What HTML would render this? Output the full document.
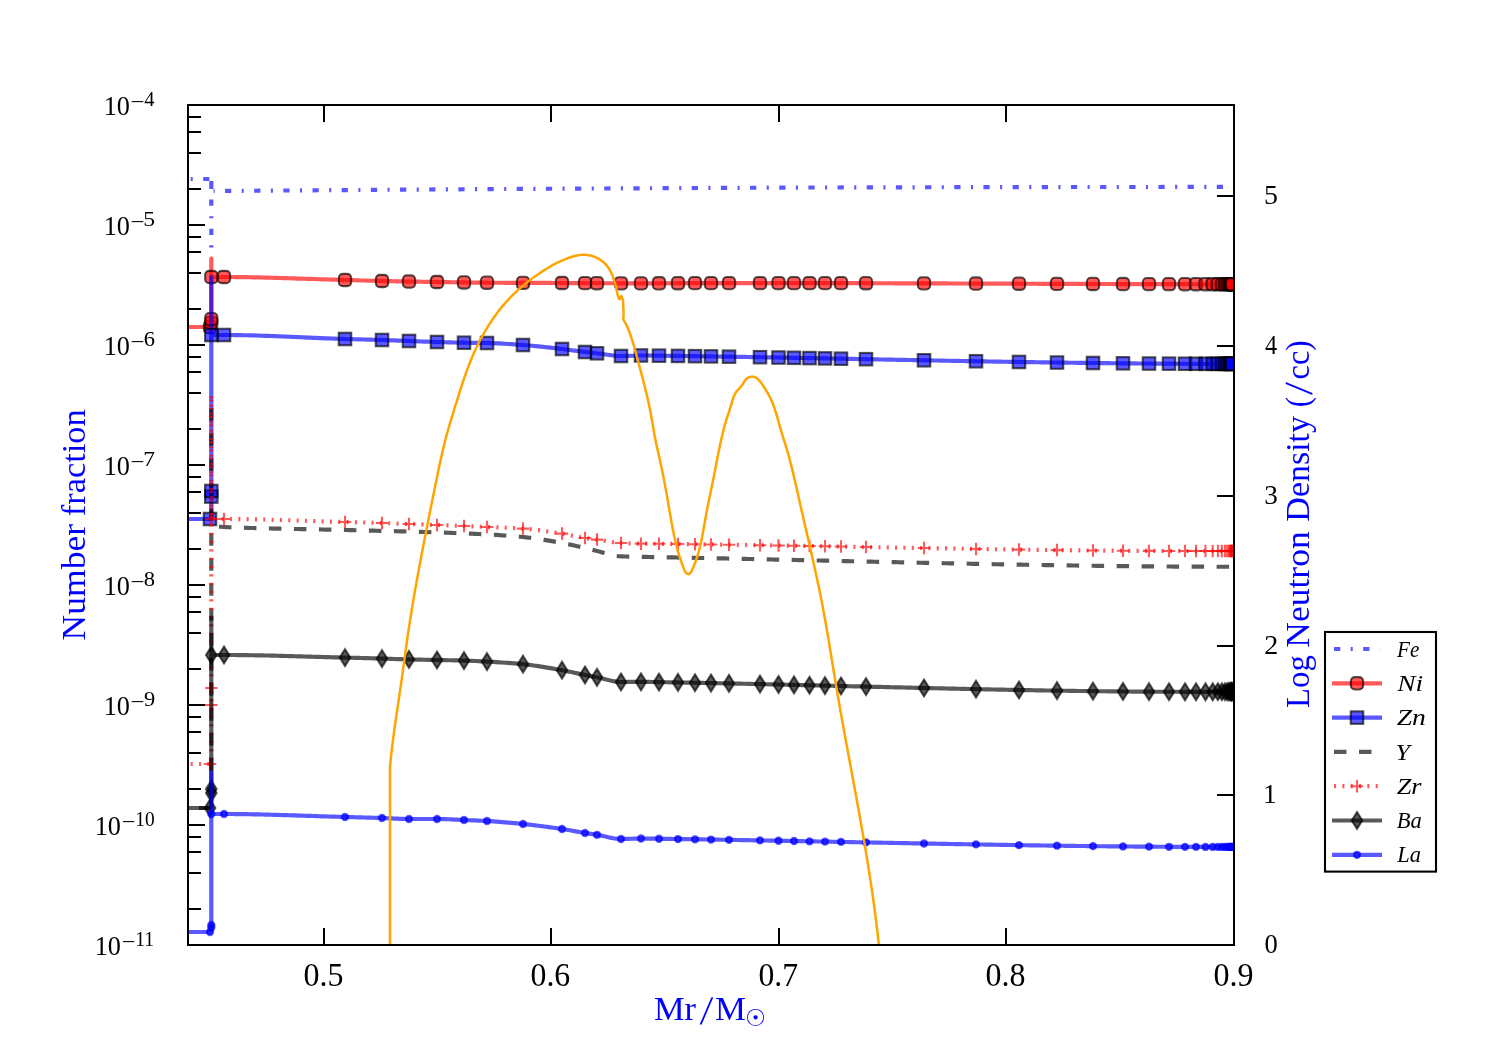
<!DOCTYPE html>
<html lang="en"><head><meta charset="utf-8"><title>Number fraction and neutron density</title>
<style>html,body{margin:0;padding:0;background:#fff;overflow:hidden}svg{display:block}</style></head>
<body>
<svg width="1500" height="1050" viewBox="0 0 1500 1050" role="img">
<rect width="1500" height="1050" fill="#fff"/>
<defs><clipPath id="ax"><rect x="188.0" y="105.0" width="1046.5" height="840.0"/></clipPath></defs>
<g clip-path="url(#ax)">
<path d="M174.03,179.00 L209.40,179.00" fill="none" stroke="#0000ff" stroke-opacity="0.65" stroke-width="4.17" stroke-linejoin="round" stroke-dasharray="6.25 10.42 2.08 10.42" stroke-dashoffset="0.00"/>
<path d="M211.30,181.00 L211.30,189.08" fill="none" stroke="#0000ff" stroke-opacity="0.65" stroke-width="4.17" stroke-linejoin="round"/>
<path d="M211.30,189.08 L211.30,247.42" fill="none" stroke="#0000ff" stroke-opacity="0.65" stroke-width="4.17" stroke-linejoin="round" stroke-dasharray="6.25 10.42 2.08 10.42" stroke-dashoffset="18.75"/>
<path d="M213.50,191.00 L500.00,189.00 L780.00,187.60 L1000.00,187.10 L1232.00,186.90" fill="none" stroke="#0000ff" stroke-opacity="0.65" stroke-width="4.17" stroke-linejoin="round" stroke-dasharray="6.25 10.42 2.08 10.42" stroke-dashoffset="17.67"/>
<path d="M170.00,327.00 L210.00,327.00 L211.30,325.00 L211.30,258.70 L211.30,277.00 L214.30,277.00 L217.30,277.00 L220.30,277.00 L223.30,277.00 L224.00,277.00 L226.30,277.00 L229.30,277.01 L232.30,277.03 L235.30,277.05 L238.30,277.08 L241.30,277.11 L244.30,277.15 L247.30,277.20 L250.30,277.25 L253.30,277.30 L256.30,277.36 L259.30,277.43 L262.30,277.50 L265.30,277.57 L268.30,277.64 L271.30,277.72 L274.30,277.81 L277.30,277.89 L280.30,277.98 L283.30,278.07 L286.30,278.16 L289.30,278.26 L292.30,278.35 L295.30,278.45 L298.30,278.55 L301.30,278.64 L304.30,278.74 L307.30,278.84 L310.30,278.94 L313.30,279.04 L316.30,279.14 L319.30,279.24 L322.30,279.33 L325.30,279.43 L328.30,279.52 L331.30,279.61 L334.30,279.70 L337.30,279.79 L340.30,279.87 L343.30,279.96 L345.00,280.00 L346.30,280.03 L349.30,280.12 L352.30,280.20 L355.30,280.28 L358.30,280.37 L361.30,280.46 L364.30,280.54 L367.30,280.63 L370.30,280.71 L373.30,280.79 L376.30,280.87 L379.30,280.94 L382.00,281.00 L382.30,281.01 L385.30,281.07 L388.30,281.14 L391.30,281.20 L394.30,281.26 L397.30,281.32 L400.30,281.37 L403.30,281.43 L406.30,281.49 L409.30,281.54 L412.30,281.59 L415.30,281.64 L418.30,281.70 L421.30,281.75 L424.30,281.80 L427.30,281.84 L430.30,281.89 L433.30,281.94 L436.30,281.99 L437.00,282.00 L439.30,282.04 L442.30,282.09 L445.30,282.14 L448.30,282.19 L451.30,282.24 L454.30,282.28 L457.30,282.33 L460.30,282.38 L463.30,282.43 L466.30,282.47 L469.30,282.52 L472.30,282.55 L475.30,282.59 L478.30,282.63 L481.30,282.65 L484.30,282.68 L487.00,282.70 L487.30,282.70 L490.30,282.72 L493.30,282.74 L496.30,282.75 L499.30,282.77 L502.30,282.78 L505.30,282.80 L508.30,282.81 L511.30,282.82 L514.30,282.83 L517.30,282.85 L520.30,282.86 L523.30,282.87 L526.30,282.88 L529.30,282.89 L532.30,282.90 L535.30,282.91 L538.30,282.92 L541.30,282.92 L544.30,282.93 L547.30,282.94 L550.30,282.95 L553.30,282.97 L556.30,282.98 L559.30,282.99 L562.00,283.00 L562.30,283.00 L565.30,283.01 L568.30,283.03 L571.30,283.04 L574.30,283.06 L577.30,283.08 L580.30,283.09 L583.30,283.11 L586.30,283.13 L589.30,283.15 L592.30,283.17 L595.30,283.18 L598.30,283.20 L601.30,283.22 L604.30,283.24 L607.30,283.25 L610.30,283.27 L613.30,283.28 L616.30,283.30 L619.30,283.31 L622.30,283.32 L625.30,283.33 L628.30,283.34 L631.30,283.35 L634.30,283.35 L637.30,283.36 L640.30,283.36 L641.00,283.36 L643.30,283.36 L646.30,283.35 L649.30,283.34 L652.30,283.32 L655.30,283.31 L658.30,283.29 L661.30,283.27 L664.30,283.26 L666.00,283.25 L667.30,283.25 L670.30,283.23 L673.30,283.22 L676.30,283.21 L679.30,283.20 L682.30,283.19 L685.30,283.19 L688.30,283.18 L691.00,283.17 L691.30,283.17 L694.30,283.16 L697.30,283.15 L700.30,283.15 L703.30,283.14 L706.30,283.13 L709.30,283.13 L712.30,283.12 L715.30,283.12 L716.00,283.12 L718.30,283.11 L721.30,283.11 L724.30,283.10 L727.30,283.10 L730.30,283.09 L733.30,283.09 L736.30,283.09 L739.30,283.08 L741.00,283.08 L742.30,283.08 L745.30,283.08 L748.30,283.08 L751.30,283.08 L754.30,283.08 L757.30,283.08 L760.30,283.07 L763.30,283.07 L766.00,283.07 L766.30,283.07 L769.30,283.07 L772.30,283.07 L775.30,283.08 L778.30,283.08 L781.30,283.08 L784.30,283.08 L787.30,283.08 L790.30,283.08 L791.00,283.08 L793.30,283.09 L796.30,283.09 L799.30,283.09 L802.30,283.09 L805.30,283.10 L808.30,283.10 L811.30,283.10 L814.30,283.11 L816.00,283.11 L817.30,283.11 L820.30,283.12 L823.30,283.12 L826.30,283.13 L829.30,283.13 L832.30,283.14 L835.30,283.14 L838.30,283.15 L841.00,283.15 L841.30,283.15 L844.30,283.16 L847.30,283.17 L850.30,283.17 L853.30,283.18 L856.30,283.19 L859.30,283.19 L862.30,283.20 L865.30,283.21 L866.00,283.21 L868.30,283.21 L871.30,283.22 L874.30,283.23 L877.30,283.24 L880.30,283.25 L883.30,283.25 L886.30,283.26 L889.30,283.27 L891.00,283.28 L892.30,283.28 L895.30,283.29 L898.30,283.30 L901.30,283.31 L904.30,283.32 L907.30,283.32 L910.30,283.33 L913.30,283.34 L916.00,283.35 L916.30,283.35 L919.30,283.36 L922.30,283.37 L925.30,283.38 L928.30,283.39 L931.30,283.40 L934.30,283.41 L937.30,283.42 L940.30,283.43 L941.00,283.43 L943.30,283.44 L946.30,283.45 L949.30,283.46 L952.30,283.47 L955.30,283.48 L958.30,283.50 L961.30,283.51 L964.30,283.52 L966.00,283.52 L967.30,283.53 L970.30,283.54 L973.30,283.55 L976.00,283.56 L976.30,283.56 L979.30,283.57 L982.30,283.58 L985.30,283.59 L988.30,283.60 L991.00,283.61 L991.30,283.62 L994.30,283.63 L997.30,283.64 L1000.30,283.65 L1003.30,283.66 L1006.30,283.67 L1009.30,283.68 L1012.30,283.69 L1015.30,283.70 L1016.00,283.71 L1018.30,283.72 L1019.00,283.72 L1021.30,283.73 L1024.30,283.74 L1027.30,283.75 L1030.30,283.76 L1033.30,283.77 L1036.30,283.78 L1039.30,283.79 L1041.00,283.80 L1042.30,283.80 L1045.30,283.81 L1048.30,283.82 L1051.30,283.83 L1054.30,283.85 L1057.30,283.86 L1060.30,283.87 L1063.30,283.88 L1066.00,283.89 L1066.30,283.89 L1069.30,283.90 L1072.30,283.91 L1075.30,283.92 L1078.30,283.93 L1081.30,283.94 L1084.30,283.95 L1087.30,283.96 L1090.30,283.97 L1091.00,283.97 L1093.30,283.98 L1096.30,283.99 L1099.30,283.99 L1102.30,284.00 L1105.30,284.01 L1108.30,284.02 L1111.30,284.03 L1114.30,284.04 L1116.00,284.04 L1117.30,284.05 L1120.30,284.06 L1123.30,284.06 L1126.30,284.07 L1129.30,284.08 L1132.30,284.09 L1135.30,284.10 L1138.30,284.10 L1141.00,284.11 L1141.30,284.11 L1144.30,284.12 L1147.30,284.13 L1150.30,284.13 L1153.30,284.14 L1156.30,284.15 L1159.30,284.15 L1162.30,284.16 L1165.30,284.16 L1166.00,284.17 L1168.30,284.17 L1171.30,284.18 L1174.30,284.18 L1177.30,284.19 L1180.30,284.19 L1183.30,284.20 L1186.30,284.20 L1189.30,284.20 L1191.00,284.21 L1192.30,284.21 L1195.30,284.21 L1198.30,284.22 L1201.30,284.22 L1204.30,284.22 L1207.30,284.23 L1210.30,284.23 L1213.30,284.23 L1216.00,284.23 L1216.30,284.23 L1219.30,284.24 L1222.30,284.24 L1225.30,284.24 L1228.30,284.24 L1231.30,284.24 L1232.20,284.24" fill="none" stroke="#ff0000" stroke-opacity="0.65" stroke-width="4.17" stroke-linejoin="round"/>
<g fill="#ff0000" fill-opacity="0.65" stroke="#000" stroke-opacity="0.65" stroke-width="2.08" stroke-linejoin="miter"><rect x="203.85" y="320.85" width="12.3" height="12.3" rx="4"/><rect x="205.15" y="316.65" width="12.3" height="12.3" rx="4"/><rect x="205.15" y="313.05" width="12.3" height="12.3" rx="4"/><rect x="205.15" y="270.85" width="12.3" height="12.3" rx="4"/><rect x="217.85" y="270.85" width="12.3" height="12.3" rx="4"/><rect x="338.85" y="273.85" width="12.3" height="12.3" rx="4"/><rect x="375.85" y="274.85" width="12.3" height="12.3" rx="4"/><rect x="402.85" y="275.38" width="12.3" height="12.3" rx="4"/><rect x="430.85" y="275.85" width="12.3" height="12.3" rx="4"/><rect x="457.85" y="276.29" width="12.3" height="12.3" rx="4"/><rect x="480.85" y="276.55" width="12.3" height="12.3" rx="4"/><rect x="516.85" y="276.72" width="12.3" height="12.3" rx="4"/><rect x="555.85" y="276.85" width="12.3" height="12.3" rx="4"/><rect x="578.85" y="276.97" width="12.3" height="12.3" rx="4"/><rect x="590.85" y="277.04" width="12.3" height="12.3" rx="4"/><rect x="614.85" y="277.17" width="12.3" height="12.3" rx="4"/><rect x="634.85" y="277.21" width="12.3" height="12.3" rx="4"/><rect x="652.85" y="277.13" width="12.3" height="12.3" rx="4"/><rect x="671.85" y="277.06" width="12.3" height="12.3" rx="4"/><rect x="688.85" y="277.01" width="12.3" height="12.3" rx="4"/><rect x="704.85" y="276.97" width="12.3" height="12.3" rx="4"/><rect x="722.85" y="276.95" width="12.3" height="12.3" rx="4"/><rect x="753.85" y="276.92" width="12.3" height="12.3" rx="4"/><rect x="772.35" y="276.93" width="12.3" height="12.3" rx="4"/><rect x="787.85" y="276.94" width="12.3" height="12.3" rx="4"/><rect x="803.35" y="276.95" width="12.3" height="12.3" rx="4"/><rect x="818.85" y="276.97" width="12.3" height="12.3" rx="4"/><rect x="834.85" y="277.00" width="12.3" height="12.3" rx="4"/><rect x="859.85" y="277.06" width="12.3" height="12.3" rx="4"/><rect x="917.85" y="277.23" width="12.3" height="12.3" rx="4"/><rect x="969.85" y="277.41" width="12.3" height="12.3" rx="4"/><rect x="1012.85" y="277.57" width="12.3" height="12.3" rx="4"/><rect x="1050.85" y="277.70" width="12.3" height="12.3" rx="4"/><rect x="1086.85" y="277.83" width="12.3" height="12.3" rx="4"/><rect x="1116.85" y="277.91" width="12.3" height="12.3" rx="4"/><rect x="1142.85" y="277.98" width="12.3" height="12.3" rx="4"/><rect x="1162.85" y="278.02" width="12.3" height="12.3" rx="4"/><rect x="1178.85" y="278.05" width="12.3" height="12.3" rx="4"/><rect x="1189.85" y="278.06" width="12.3" height="12.3" rx="4"/><rect x="1199.35" y="278.07" width="12.3" height="12.3" rx="4"/><rect x="1206.55" y="278.08" width="12.3" height="12.3" rx="4"/><rect x="1211.75" y="278.08" width="12.3" height="12.3" rx="4"/><rect x="1215.75" y="278.09" width="12.3" height="12.3" rx="4"/><rect x="1218.85" y="278.09" width="12.3" height="12.3" rx="4"/><rect x="1221.05" y="278.09" width="12.3" height="12.3" rx="4"/><rect x="1222.65" y="278.09" width="12.3" height="12.3" rx="4"/><rect x="1223.85" y="278.09" width="12.3" height="12.3" rx="4"/><rect x="1224.75" y="278.09" width="12.3" height="12.3" rx="4"/><rect x="1225.35" y="278.09" width="12.3" height="12.3" rx="4"/><rect x="1225.75" y="278.09" width="12.3" height="12.3" rx="4"/><rect x="1226.05" y="278.09" width="12.3" height="12.3" rx="4"/></g>
<path d="M170.00,519.00 L210.00,519.00 L211.30,517.00 L211.30,277.00 L211.30,335.00 L214.30,335.00 L217.30,335.00 L220.30,335.00 L223.30,335.00 L224.00,335.00 L226.30,335.00 L229.30,335.02 L232.30,335.04 L235.30,335.07 L238.30,335.11 L241.30,335.16 L244.30,335.22 L247.30,335.28 L250.30,335.35 L253.30,335.43 L256.30,335.52 L259.30,335.61 L262.30,335.71 L265.30,335.81 L268.30,335.92 L271.30,336.03 L274.30,336.14 L277.30,336.26 L280.30,336.38 L283.30,336.51 L286.30,336.63 L289.30,336.76 L292.30,336.89 L295.30,337.03 L298.30,337.16 L301.30,337.29 L304.30,337.42 L307.30,337.55 L310.30,337.69 L313.30,337.82 L316.30,337.94 L319.30,338.07 L322.30,338.19 L325.30,338.31 L328.30,338.43 L331.30,338.54 L334.30,338.65 L337.30,338.76 L340.30,338.86 L343.30,338.95 L345.00,339.00 L346.30,339.04 L349.30,339.12 L352.30,339.20 L355.30,339.28 L358.30,339.36 L361.30,339.43 L364.30,339.51 L367.30,339.59 L370.30,339.66 L373.30,339.75 L376.30,339.83 L379.30,339.92 L382.00,340.00 L382.30,340.01 L385.30,340.11 L388.30,340.21 L391.30,340.32 L394.30,340.44 L397.30,340.55 L400.30,340.67 L403.30,340.79 L406.30,340.90 L409.00,341.00 L409.30,341.01 L412.30,341.12 L415.30,341.23 L418.30,341.35 L421.30,341.46 L424.30,341.57 L427.30,341.68 L430.30,341.78 L433.30,341.88 L436.30,341.98 L437.00,342.00 L439.30,342.07 L442.30,342.16 L445.30,342.25 L448.30,342.33 L451.30,342.41 L454.30,342.49 L457.30,342.56 L460.30,342.63 L463.30,342.69 L464.00,342.70 L466.30,342.74 L469.30,342.78 L472.30,342.81 L475.30,342.84 L478.30,342.87 L481.30,342.91 L484.30,342.95 L487.00,343.00 L487.30,343.01 L490.30,343.08 L493.30,343.18 L496.30,343.31 L499.30,343.45 L502.30,343.61 L505.30,343.79 L508.30,343.97 L511.30,344.17 L514.30,344.38 L517.30,344.59 L520.30,344.81 L523.00,345.00 L523.30,345.02 L526.30,345.25 L529.30,345.50 L532.30,345.77 L535.30,346.05 L538.30,346.35 L541.30,346.66 L544.30,346.98 L547.30,347.31 L550.30,347.65 L553.30,347.99 L556.30,348.34 L559.30,348.69 L562.00,349.00 L562.30,349.03 L565.30,349.40 L568.30,349.79 L571.30,350.20 L574.30,350.61 L577.30,351.02 L580.30,351.42 L583.30,351.80 L585.00,352.00 L586.30,352.15 L589.30,352.48 L592.30,352.80 L595.30,353.12 L597.00,353.30 L598.30,353.45 L601.30,353.85 L604.30,354.29 L607.30,354.73 L610.30,355.16 L613.30,355.53 L616.30,355.81 L619.30,355.97 L621.00,356.00 L622.30,355.99 L625.30,355.94 L628.30,355.84 L631.30,355.72 L634.30,355.60 L637.30,355.51 L640.30,355.46 L641.00,355.46 L643.30,355.47 L646.30,355.49 L649.30,355.53 L652.30,355.57 L655.30,355.62 L658.30,355.66 L659.00,355.67 L661.30,355.70 L664.30,355.74 L666.00,355.76 L667.30,355.78 L670.30,355.82 L673.30,355.86 L676.30,355.90 L679.30,355.94 L682.30,355.98 L685.30,356.02 L688.30,356.06 L691.00,356.10 L691.30,356.10 L694.30,356.15 L695.00,356.16 L697.30,356.19 L700.30,356.24 L703.30,356.28 L706.30,356.33 L709.30,356.37 L711.00,356.40 L712.30,356.42 L715.30,356.46 L716.00,356.47 L718.30,356.51 L721.30,356.56 L724.30,356.61 L727.30,356.65 L730.30,356.70 L733.30,356.75 L736.30,356.80 L739.30,356.85 L741.00,356.88 L742.30,356.90 L745.30,356.95 L748.30,357.00 L751.30,357.05 L754.30,357.10 L757.30,357.16 L760.00,357.20 L760.30,357.21 L763.30,357.26 L766.00,357.31 L766.30,357.31 L769.30,357.37 L772.30,357.42 L775.30,357.47 L778.30,357.53 L781.30,357.58 L784.30,357.64 L787.30,357.69 L790.30,357.74 L791.00,357.76 L793.30,357.80 L794.00,357.81 L796.30,357.86 L799.30,357.91 L802.30,357.97 L805.30,358.02 L808.30,358.08 L811.30,358.13 L814.30,358.19 L816.00,358.22 L817.30,358.25 L820.30,358.30 L823.30,358.36 L825.00,358.39 L826.30,358.42 L829.30,358.47 L832.30,358.53 L835.30,358.59 L838.30,358.65 L841.00,358.70 L841.30,358.70 L844.30,358.76 L847.30,358.82 L850.30,358.88 L853.30,358.93 L856.30,358.99 L859.30,359.05 L862.30,359.11 L865.30,359.17 L866.00,359.18 L868.30,359.22 L871.30,359.28 L874.30,359.34 L877.30,359.40 L880.30,359.46 L883.30,359.51 L886.30,359.57 L889.30,359.63 L891.00,359.66 L892.30,359.69 L895.30,359.75 L898.30,359.80 L901.30,359.86 L904.30,359.92 L907.30,359.98 L910.30,360.03 L913.30,360.09 L916.00,360.14 L916.30,360.15 L919.30,360.20 L922.30,360.26 L924.00,360.29 L925.30,360.32 L928.30,360.37 L931.30,360.43 L934.30,360.49 L937.30,360.54 L940.30,360.60 L941.00,360.61 L943.30,360.65 L946.30,360.71 L949.30,360.76 L952.30,360.82 L955.30,360.87 L958.30,360.93 L961.30,360.98 L964.30,361.04 L966.00,361.07 L967.30,361.09 L970.30,361.14 L973.30,361.20 L976.00,361.25 L976.30,361.25 L979.30,361.30 L982.30,361.36 L985.30,361.41 L988.30,361.46 L991.00,361.51 L991.30,361.51 L994.30,361.56 L997.30,361.61 L1000.30,361.66 L1003.30,361.71 L1006.30,361.76 L1009.30,361.81 L1012.30,361.86 L1015.30,361.91 L1016.00,361.92 L1018.30,361.96 L1019.00,361.97 L1021.30,362.01 L1024.30,362.05 L1027.30,362.10 L1030.30,362.15 L1033.30,362.19 L1036.30,362.24 L1039.30,362.28 L1041.00,362.31 L1042.30,362.33 L1045.30,362.37 L1048.30,362.42 L1051.30,362.46 L1054.30,362.50 L1057.00,362.54 L1057.30,362.54 L1060.30,362.59 L1063.30,362.63 L1066.00,362.66 L1066.30,362.67 L1069.30,362.71 L1072.30,362.75 L1075.30,362.78 L1078.30,362.82 L1081.30,362.86 L1084.30,362.90 L1087.30,362.94 L1090.30,362.97 L1091.00,362.98 L1093.30,363.01 L1096.30,363.04 L1099.30,363.07 L1102.30,363.11 L1105.30,363.14 L1108.30,363.17 L1111.30,363.21 L1114.30,363.24 L1116.00,363.25 L1117.30,363.27 L1120.30,363.30 L1123.00,363.32 L1123.30,363.33 L1126.30,363.35 L1129.30,363.38 L1132.30,363.41 L1135.30,363.43 L1138.30,363.46 L1141.00,363.48 L1141.30,363.48 L1144.30,363.51 L1147.30,363.53 L1149.00,363.54 L1150.30,363.55 L1153.30,363.57 L1156.30,363.59 L1159.30,363.61 L1162.30,363.63 L1165.30,363.65 L1166.00,363.66 L1168.30,363.67 L1171.30,363.68 L1174.30,363.70 L1177.30,363.72 L1180.30,363.73 L1183.30,363.74 L1186.30,363.76 L1189.30,363.77 L1191.00,363.77 L1192.30,363.78 L1195.30,363.79 L1198.30,363.80 L1201.30,363.80 L1204.30,363.81 L1207.30,363.82 L1210.30,363.82 L1213.30,363.83 L1216.00,363.83 L1216.30,363.83 L1219.30,363.83 L1222.30,363.83 L1225.30,363.83 L1228.30,363.83 L1231.30,363.83 L1232.20,363.83" fill="none" stroke="#0000ff" stroke-opacity="0.65" stroke-width="4.17" stroke-linejoin="round"/>
<g fill="#0000ff" fill-opacity="0.65" stroke="#000" stroke-opacity="0.65" stroke-width="2.08" stroke-linejoin="miter"><rect x="203.75" y="512.75" width="12.5" height="12.5"/><rect x="205.05" y="490.35" width="12.5" height="12.5"/><rect x="205.05" y="484.75" width="12.5" height="12.5"/><rect x="205.05" y="328.75" width="12.5" height="12.5"/><rect x="217.75" y="328.75" width="12.5" height="12.5"/><rect x="338.75" y="332.75" width="12.5" height="12.5"/><rect x="375.75" y="333.75" width="12.5" height="12.5"/><rect x="402.75" y="334.75" width="12.5" height="12.5"/><rect x="430.75" y="335.75" width="12.5" height="12.5"/><rect x="457.75" y="336.45" width="12.5" height="12.5"/><rect x="480.75" y="336.75" width="12.5" height="12.5"/><rect x="516.75" y="338.75" width="12.5" height="12.5"/><rect x="555.75" y="342.75" width="12.5" height="12.5"/><rect x="578.75" y="345.75" width="12.5" height="12.5"/><rect x="590.75" y="347.05" width="12.5" height="12.5"/><rect x="614.75" y="349.75" width="12.5" height="12.5"/><rect x="634.75" y="349.21" width="12.5" height="12.5"/><rect x="652.75" y="349.42" width="12.5" height="12.5"/><rect x="671.75" y="349.67" width="12.5" height="12.5"/><rect x="688.75" y="349.91" width="12.5" height="12.5"/><rect x="704.75" y="350.15" width="12.5" height="12.5"/><rect x="722.75" y="350.43" width="12.5" height="12.5"/><rect x="753.75" y="350.95" width="12.5" height="12.5"/><rect x="772.25" y="351.28" width="12.5" height="12.5"/><rect x="787.75" y="351.56" width="12.5" height="12.5"/><rect x="803.25" y="351.85" width="12.5" height="12.5"/><rect x="818.75" y="352.14" width="12.5" height="12.5"/><rect x="834.75" y="352.45" width="12.5" height="12.5"/><rect x="859.75" y="352.93" width="12.5" height="12.5"/><rect x="917.75" y="354.04" width="12.5" height="12.5"/><rect x="969.75" y="355.00" width="12.5" height="12.5"/><rect x="1012.75" y="355.72" width="12.5" height="12.5"/><rect x="1050.75" y="356.29" width="12.5" height="12.5"/><rect x="1086.75" y="356.75" width="12.5" height="12.5"/><rect x="1116.75" y="357.07" width="12.5" height="12.5"/><rect x="1142.75" y="357.29" width="12.5" height="12.5"/><rect x="1162.75" y="357.42" width="12.5" height="12.5"/><rect x="1178.75" y="357.50" width="12.5" height="12.5"/><rect x="1189.75" y="357.54" width="12.5" height="12.5"/><rect x="1199.25" y="357.57" width="12.5" height="12.5"/><rect x="1206.45" y="357.58" width="12.5" height="12.5"/><rect x="1211.65" y="357.58" width="12.5" height="12.5"/><rect x="1215.65" y="357.58" width="12.5" height="12.5"/><rect x="1218.75" y="357.58" width="12.5" height="12.5"/><rect x="1220.95" y="357.58" width="12.5" height="12.5"/><rect x="1222.55" y="357.58" width="12.5" height="12.5"/><rect x="1223.75" y="357.58" width="12.5" height="12.5"/><rect x="1224.65" y="357.58" width="12.5" height="12.5"/><rect x="1225.25" y="357.58" width="12.5" height="12.5"/><rect x="1225.65" y="357.58" width="12.5" height="12.5"/><rect x="1225.95" y="357.58" width="12.5" height="12.5"/></g>
<path d="M174.00,808.00 L211.50,808.00" fill="none" stroke="#000000" stroke-opacity="0.65" stroke-width="4.17" stroke-linejoin="round" stroke-dasharray="12.5 12.5" stroke-dashoffset="0.00"/>
<path d="M211.30,408.30 L211.30,808.00" fill="none" stroke="#000000" stroke-opacity="0.65" stroke-width="4.17" stroke-linejoin="round" stroke-dasharray="12.5 12.5" stroke-dashoffset="0.00"/>
<path d="M211.30,526.00 L214.30,526.26 L217.30,526.53 L220.30,526.78 L223.30,526.97 L224.00,527.00 L226.30,527.10 L229.30,527.22 L232.30,527.34 L235.30,527.46 L238.30,527.57 L241.30,527.67 L244.30,527.77 L247.30,527.87 L250.30,527.96 L253.30,528.04 L256.30,528.13 L259.30,528.21 L262.30,528.29 L265.30,528.36 L268.30,528.43 L271.30,528.50 L274.30,528.57 L277.30,528.63 L280.30,528.69 L283.30,528.75 L286.30,528.81 L289.30,528.87 L292.30,528.93 L295.30,528.99 L298.30,529.04 L301.30,529.10 L304.30,529.15 L307.30,529.21 L310.30,529.26 L313.30,529.32 L316.30,529.38 L319.30,529.43 L322.30,529.49 L325.30,529.55 L328.30,529.62 L331.30,529.68 L334.30,529.75 L337.30,529.81 L340.30,529.88 L343.30,529.96 L345.00,530.00 L346.30,530.03 L349.30,530.11 L352.30,530.18 L355.30,530.26 L358.30,530.33 L361.30,530.40 L364.30,530.48 L367.30,530.55 L370.30,530.62 L373.30,530.69 L376.30,530.76 L379.30,530.84 L382.30,530.91 L385.30,530.98 L388.30,531.06 L391.30,531.13 L394.30,531.20 L397.30,531.28 L400.30,531.36 L403.30,531.43 L406.30,531.51 L409.30,531.59 L412.30,531.67 L415.30,531.75 L418.30,531.84 L421.30,531.92 L424.30,532.01 L427.30,532.10 L430.30,532.19 L433.30,532.28 L436.30,532.38 L437.00,532.40 L439.30,532.47 L442.30,532.57 L445.30,532.67 L448.30,532.78 L451.30,532.88 L454.30,532.99 L457.30,533.10 L460.30,533.21 L463.30,533.33 L466.30,533.45 L469.30,533.57 L472.30,533.70 L475.30,533.83 L478.30,533.97 L481.30,534.11 L484.30,534.26 L487.00,534.40 L487.30,534.42 L490.30,534.58 L493.30,534.75 L496.30,534.92 L499.30,535.11 L502.30,535.31 L505.30,535.52 L508.30,535.74 L511.30,535.97 L514.30,536.21 L517.30,536.47 L520.30,536.74 L523.00,537.00 L523.30,537.03 L526.30,537.35 L529.30,537.70 L532.30,538.08 L535.30,538.49 L538.30,538.93 L541.30,539.39 L544.30,539.88 L547.30,540.38 L550.30,540.90 L553.30,541.42 L556.30,541.96 L559.30,542.51 L562.00,543.00 L562.30,543.06 L565.30,543.63 L568.30,544.23 L571.30,544.87 L574.30,545.53 L577.30,546.21 L580.30,546.90 L583.30,547.60 L585.00,548.00 L586.30,548.31 L589.30,549.06 L592.30,549.83 L595.30,550.59 L597.00,551.00 L598.30,551.32 L601.30,552.12 L604.30,552.98 L607.30,553.83 L610.30,554.64 L613.30,555.35 L616.30,555.92 L619.30,556.29 L621.00,556.40 L622.30,556.45 L625.30,556.54 L628.30,556.61 L631.30,556.67 L634.30,556.72 L637.30,556.77 L640.30,556.83 L641.00,556.84 L643.30,556.89 L646.30,556.94 L649.30,557.00 L652.30,557.05 L655.30,557.10 L658.30,557.16 L661.30,557.21 L664.30,557.26 L666.00,557.30 L667.30,557.32 L670.30,557.38 L673.30,557.43 L676.30,557.49 L679.30,557.55 L680.00,557.56 L682.30,557.61 L685.30,557.67 L688.30,557.72 L691.00,557.78 L691.30,557.78 L694.30,557.84 L697.30,557.90 L700.30,557.96 L703.30,558.02 L706.30,558.08 L709.30,558.14 L712.30,558.21 L715.30,558.27 L716.00,558.28 L718.30,558.33 L721.30,558.39 L724.30,558.45 L727.30,558.52 L730.30,558.58 L733.30,558.64 L736.30,558.71 L739.30,558.77 L741.00,558.81 L742.30,558.83 L745.30,558.90 L748.30,558.96 L751.30,559.03 L754.30,559.09 L757.30,559.15 L760.00,559.21 L760.30,559.22 L763.30,559.28 L766.00,559.34 L766.30,559.35 L769.30,559.42 L772.30,559.48 L775.30,559.55 L778.30,559.61 L781.30,559.68 L784.30,559.74 L787.30,559.81 L790.30,559.88 L791.00,559.89 L793.30,559.94 L796.30,560.01 L799.30,560.08 L802.30,560.14 L805.30,560.21 L808.30,560.27 L811.30,560.34 L814.30,560.41 L816.00,560.45 L817.30,560.47 L820.30,560.54 L823.30,560.61 L826.30,560.67 L829.30,560.74 L832.30,560.81 L835.30,560.88 L838.30,560.94 L841.00,561.00 L841.30,561.01 L844.30,561.08 L847.30,561.14 L850.30,561.21 L853.30,561.28 L856.30,561.34 L859.30,561.41 L862.30,561.47 L865.30,561.54 L866.00,561.56 L868.30,561.61 L871.30,561.67 L874.30,561.74 L877.30,561.80 L880.30,561.87 L883.30,561.94 L886.30,562.00 L889.30,562.07 L891.00,562.10 L892.30,562.13 L895.30,562.20 L898.30,562.26 L901.30,562.33 L904.30,562.39 L907.30,562.45 L910.30,562.52 L913.30,562.58 L916.00,562.64 L916.30,562.65 L919.30,562.71 L922.30,562.77 L924.00,562.81 L925.30,562.84 L928.30,562.90 L931.30,562.96 L934.30,563.02 L937.30,563.09 L940.30,563.15 L941.00,563.16 L943.30,563.21 L946.30,563.27 L949.30,563.33 L952.30,563.39 L955.30,563.45 L958.30,563.51 L961.30,563.57 L964.30,563.63 L966.00,563.67 L967.30,563.69 L970.30,563.75 L973.30,563.81 L976.00,563.86 L976.30,563.87 L979.30,563.92 L982.30,563.98 L985.30,564.04 L988.30,564.10 L991.00,564.15 L991.30,564.15 L994.30,564.21 L997.30,564.26 L1000.30,564.32 L1003.30,564.37 L1006.30,564.43 L1009.30,564.48 L1012.30,564.53 L1015.30,564.59 L1016.00,564.60 L1018.30,564.64 L1019.00,564.65 L1021.30,564.69 L1024.30,564.74 L1027.30,564.79 L1030.30,564.84 L1033.30,564.89 L1036.30,564.94 L1039.30,564.99 L1041.00,565.02 L1042.30,565.04 L1045.30,565.09 L1048.30,565.14 L1050.00,565.16 L1051.30,565.18 L1054.30,565.23 L1057.30,565.27 L1060.30,565.32 L1063.30,565.36 L1066.00,565.40 L1066.30,565.41 L1069.30,565.45 L1072.30,565.49 L1075.30,565.54 L1078.30,565.58 L1081.30,565.62 L1084.30,565.66 L1087.30,565.70 L1090.30,565.74 L1091.00,565.75 L1093.30,565.78 L1096.30,565.82 L1099.30,565.85 L1102.30,565.89 L1105.30,565.93 L1108.30,565.96 L1111.30,566.00 L1114.30,566.03 L1116.00,566.05 L1117.30,566.07 L1120.30,566.10 L1123.30,566.13 L1126.30,566.16 L1129.30,566.19 L1132.30,566.22 L1135.30,566.25 L1138.30,566.28 L1141.00,566.30 L1141.30,566.31 L1144.30,566.33 L1147.30,566.36 L1150.30,566.38 L1153.30,566.41 L1156.30,566.43 L1159.30,566.46 L1162.30,566.48 L1165.30,566.50 L1166.00,566.50 L1168.30,566.52 L1171.30,566.54 L1174.30,566.56 L1177.30,566.58 L1180.30,566.59 L1183.30,566.61 L1186.30,566.63 L1189.30,566.64 L1191.00,566.65 L1192.30,566.65 L1195.30,566.67 L1198.30,566.68 L1201.30,566.69 L1204.30,566.70 L1207.30,566.71 L1210.30,566.72 L1213.30,566.73 L1216.00,566.73 L1216.30,566.73 L1219.30,566.74 L1222.30,566.74 L1225.30,566.75 L1228.30,566.75 L1231.30,566.75 L1232.20,566.75" fill="none" stroke="#000000" stroke-opacity="0.65" stroke-width="4.17" stroke-linejoin="round" stroke-dasharray="12.5 12.5" stroke-dashoffset="17.30"/>
<path d="M174.00,764.00 L210.00,764.00" fill="none" stroke="#ff0000" stroke-opacity="0.65" stroke-width="4.17" stroke-linejoin="round" stroke-dasharray="2.08 6.25" stroke-dashoffset="0.00"/>
<path d="M211.30,399.40 L211.30,764.00" fill="none" stroke="#ff0000" stroke-opacity="0.65" stroke-width="4.17" stroke-linejoin="round" stroke-dasharray="2.08 6.25" stroke-dashoffset="0.00"/>
<path d="M211.30,396.30 L211.30,519.00" fill="none" stroke="#ff0000" stroke-opacity="0.65" stroke-width="4.17" stroke-linejoin="round" stroke-dasharray="2.08 6.25" stroke-dashoffset="0.00"/>
<path d="M211.30,519.00 L214.30,519.00 L217.30,519.00 L220.30,519.00 L223.30,519.00 L224.00,519.00 L226.30,519.00 L229.30,519.01 L232.30,519.03 L235.30,519.05 L238.30,519.08 L241.30,519.11 L244.30,519.15 L247.30,519.20 L250.30,519.25 L253.30,519.30 L256.30,519.36 L259.30,519.43 L262.30,519.50 L265.30,519.57 L268.30,519.64 L271.30,519.72 L274.30,519.81 L277.30,519.89 L280.30,519.98 L283.30,520.07 L286.30,520.16 L289.30,520.26 L292.30,520.35 L295.30,520.45 L298.30,520.55 L301.30,520.64 L304.30,520.74 L307.30,520.84 L310.30,520.94 L313.30,521.04 L316.30,521.14 L319.30,521.24 L322.30,521.33 L325.30,521.43 L328.30,521.52 L331.30,521.61 L334.30,521.70 L337.30,521.79 L340.30,521.87 L343.30,521.96 L345.00,522.00 L346.30,522.03 L349.30,522.11 L352.30,522.19 L355.30,522.26 L358.30,522.34 L361.30,522.42 L364.30,522.50 L367.30,522.58 L370.30,522.66 L373.30,522.74 L376.30,522.83 L379.30,522.92 L382.00,523.00 L382.30,523.01 L385.30,523.11 L388.30,523.21 L391.30,523.32 L394.30,523.44 L397.30,523.55 L400.30,523.67 L403.30,523.79 L406.30,523.90 L409.00,524.00 L409.30,524.01 L412.30,524.12 L415.30,524.23 L418.30,524.33 L421.30,524.44 L424.30,524.55 L427.30,524.65 L430.30,524.76 L433.30,524.87 L436.30,524.97 L437.00,525.00 L439.30,525.08 L442.30,525.19 L445.30,525.30 L448.30,525.41 L451.30,525.52 L454.30,525.63 L457.30,525.74 L460.30,525.85 L463.30,525.97 L464.00,526.00 L466.30,526.09 L469.30,526.22 L472.30,526.35 L475.30,526.48 L478.30,526.61 L481.30,526.75 L484.30,526.88 L487.00,527.00 L487.30,527.01 L490.30,527.14 L493.30,527.26 L496.30,527.37 L499.30,527.49 L502.30,527.60 L505.30,527.71 L508.30,527.84 L511.30,527.97 L514.30,528.11 L517.30,528.26 L520.30,528.43 L523.00,528.60 L523.30,528.62 L526.30,528.84 L529.30,529.11 L532.30,529.41 L535.30,529.74 L538.30,530.11 L541.30,530.50 L544.30,530.91 L547.30,531.34 L550.30,531.79 L553.30,532.24 L556.30,532.71 L559.30,533.18 L562.00,533.60 L562.30,533.65 L565.30,534.16 L568.30,534.73 L571.30,535.35 L574.30,535.97 L577.30,536.59 L580.30,537.18 L583.30,537.72 L585.00,538.00 L586.30,538.19 L589.30,538.61 L592.30,538.99 L595.30,539.37 L597.00,539.60 L598.30,539.78 L601.30,540.25 L604.30,540.76 L607.30,541.27 L610.30,541.77 L613.30,542.23 L616.30,542.61 L619.30,542.89 L621.00,543.00 L622.30,543.06 L625.30,543.20 L628.30,543.31 L631.30,543.41 L634.30,543.49 L637.30,543.56 L640.30,543.62 L641.00,543.63 L643.30,543.66 L646.30,543.70 L649.30,543.73 L652.30,543.76 L655.30,543.78 L658.30,543.80 L661.30,543.83 L664.30,543.86 L666.00,543.88 L667.30,543.89 L670.30,543.92 L673.30,543.96 L676.30,543.99 L679.30,544.03 L682.30,544.06 L685.30,544.10 L688.30,544.14 L691.00,544.17 L691.30,544.17 L694.30,544.21 L695.00,544.22 L697.30,544.25 L700.30,544.29 L703.30,544.33 L706.30,544.37 L709.30,544.41 L712.30,544.45 L715.30,544.49 L716.00,544.50 L718.30,544.53 L721.30,544.58 L724.30,544.62 L727.30,544.66 L729.00,544.69 L730.30,544.71 L733.30,544.75 L736.30,544.80 L739.30,544.84 L741.00,544.87 L742.30,544.89 L745.30,544.93 L748.30,544.98 L751.30,545.03 L754.30,545.08 L757.30,545.12 L760.00,545.17 L760.30,545.17 L763.30,545.22 L766.00,545.26 L766.30,545.27 L769.30,545.32 L772.30,545.37 L775.30,545.42 L778.30,545.47 L781.30,545.52 L784.30,545.57 L787.30,545.62 L790.30,545.67 L791.00,545.68 L793.30,545.72 L794.00,545.73 L796.30,545.77 L799.30,545.82 L802.30,545.88 L805.30,545.93 L808.30,545.98 L811.30,546.03 L814.30,546.09 L816.00,546.12 L817.30,546.14 L820.30,546.19 L823.30,546.25 L825.00,546.28 L826.30,546.30 L829.30,546.35 L832.30,546.41 L835.30,546.46 L838.30,546.52 L841.00,546.56 L841.30,546.57 L844.30,546.62 L847.30,546.68 L850.30,546.73 L853.30,546.79 L856.30,546.84 L859.30,546.90 L862.30,546.95 L865.30,547.01 L866.00,547.02 L868.30,547.06 L871.30,547.11 L874.30,547.17 L877.30,547.22 L880.30,547.28 L883.30,547.33 L886.30,547.39 L889.30,547.44 L891.00,547.47 L892.30,547.50 L895.30,547.55 L898.30,547.60 L901.30,547.66 L904.30,547.71 L907.30,547.77 L910.30,547.82 L913.30,547.87 L916.00,547.92 L916.30,547.93 L919.30,547.98 L922.30,548.04 L924.00,548.07 L925.30,548.09 L928.30,548.14 L931.30,548.19 L934.30,548.25 L937.30,548.30 L940.30,548.35 L941.00,548.36 L943.30,548.40 L946.30,548.45 L949.30,548.51 L952.30,548.56 L955.30,548.61 L958.30,548.66 L961.30,548.71 L964.30,548.76 L966.00,548.79 L967.30,548.81 L970.30,548.86 L973.30,548.91 L976.00,548.95 L976.30,548.96 L979.30,549.01 L982.30,549.05 L985.30,549.10 L988.30,549.15 L991.00,549.19 L991.30,549.20 L994.30,549.24 L997.30,549.29 L1000.30,549.34 L1003.30,549.38 L1006.30,549.43 L1009.30,549.47 L1012.30,549.52 L1015.30,549.56 L1016.00,549.57 L1018.30,549.60 L1019.00,549.61 L1021.30,549.65 L1024.30,549.69 L1027.30,549.73 L1030.30,549.77 L1033.30,549.81 L1036.30,549.85 L1039.30,549.89 L1041.00,549.92 L1042.30,549.93 L1045.30,549.97 L1048.30,550.01 L1051.30,550.05 L1054.30,550.09 L1057.00,550.12 L1057.30,550.12 L1060.30,550.16 L1063.30,550.19 L1066.00,550.23 L1066.30,550.23 L1069.30,550.26 L1072.30,550.30 L1075.30,550.33 L1078.30,550.36 L1081.30,550.39 L1084.30,550.42 L1087.30,550.46 L1090.30,550.48 L1091.00,550.49 L1093.30,550.51 L1096.30,550.54 L1099.30,550.57 L1102.30,550.60 L1105.30,550.62 L1108.30,550.65 L1111.30,550.67 L1114.30,550.70 L1116.00,550.71 L1117.30,550.72 L1120.30,550.74 L1123.30,550.76 L1126.30,550.78 L1129.30,550.80 L1132.30,550.82 L1135.30,550.84 L1138.30,550.86 L1141.00,550.87 L1141.30,550.87 L1144.30,550.89 L1147.30,550.91 L1149.00,550.91 L1150.30,550.92 L1153.30,550.93 L1156.30,550.95 L1159.30,550.96 L1162.30,550.97 L1165.30,550.98 L1166.00,550.98 L1168.30,550.98 L1171.30,550.99 L1174.30,551.00 L1177.30,551.00 L1180.30,551.01 L1183.30,551.01 L1186.30,551.02 L1189.30,551.02 L1191.00,551.02 L1192.30,551.02 L1195.30,551.02 L1198.30,551.02 L1201.30,551.01 L1204.30,551.01 L1207.30,551.00 L1210.30,551.00 L1213.30,550.99 L1216.00,550.99 L1216.30,550.99 L1219.30,550.98 L1222.30,550.97 L1225.30,550.96 L1228.30,550.95 L1231.30,550.93 L1232.20,550.93" fill="none" stroke="#ff0000" stroke-opacity="0.65" stroke-width="4.17" stroke-linejoin="round" stroke-dasharray="2.08 6.25" stroke-dashoffset="6.33"/>
<g fill="none" stroke="#ff0000" stroke-opacity="0.65" stroke-width="2.08"><path d="M203.75,764.00H216.25M210.00,757.75V770.25"/><path d="M205.05,705.00H217.55M211.30,698.75V711.25"/><path d="M205.05,688.00H217.55M211.30,681.75V694.25"/><path d="M205.05,519.00H217.55M211.30,512.75V525.25"/><path d="M217.75,519.00H230.25M224.00,512.75V525.25"/><path d="M338.75,522.00H351.25M345.00,515.75V528.25"/><path d="M375.75,523.00H388.25M382.00,516.75V529.25"/><path d="M402.75,524.00H415.25M409.00,517.75V530.25"/><path d="M430.75,525.00H443.25M437.00,518.75V531.25"/><path d="M457.75,526.00H470.25M464.00,519.75V532.25"/><path d="M480.75,527.00H493.25M487.00,520.75V533.25"/><path d="M516.75,528.60H529.25M523.00,522.35V534.85"/><path d="M555.75,533.60H568.25M562.00,527.35V539.85"/><path d="M578.75,538.00H591.25M585.00,531.75V544.25"/><path d="M590.75,539.60H603.25M597.00,533.35V545.85"/><path d="M614.75,543.00H627.25M621.00,536.75V549.25"/><path d="M634.75,543.63H647.25M641.00,537.38V549.88"/><path d="M652.75,543.81H665.25M659.00,537.56V550.06"/><path d="M671.75,544.01H684.25M678.00,537.76V550.26"/><path d="M688.75,544.22H701.25M695.00,537.97V550.47"/><path d="M704.75,544.43H717.25M711.00,538.18V550.68"/><path d="M722.75,544.69H735.25M729.00,538.44V550.94"/><path d="M753.75,545.17H766.25M760.00,538.92V551.42"/><path d="M772.25,545.47H784.75M778.50,539.22V551.72"/><path d="M787.75,545.73H800.25M794.00,539.48V551.98"/><path d="M803.25,546.00H815.75M809.50,539.75V552.25"/><path d="M818.75,546.28H831.25M825.00,540.03V552.53"/><path d="M834.75,546.56H847.25M841.00,540.31V552.81"/><path d="M859.75,547.02H872.25M866.00,540.77V553.27"/><path d="M917.75,548.07H930.25M924.00,541.82V554.32"/><path d="M969.75,548.95H982.25M976.00,542.70V555.20"/><path d="M1012.75,549.61H1025.25M1019.00,543.36V555.86"/><path d="M1050.75,550.12H1063.25M1057.00,543.87V556.37"/><path d="M1086.75,550.51H1099.25M1093.00,544.26V556.76"/><path d="M1116.75,550.76H1129.25M1123.00,544.51V557.01"/><path d="M1142.75,550.91H1155.25M1149.00,544.66V557.16"/><path d="M1162.75,550.99H1175.25M1169.00,544.74V557.24"/><path d="M1178.75,551.02H1191.25M1185.00,544.77V557.27"/><path d="M1189.75,551.02H1202.25M1196.00,544.77V557.27"/><path d="M1199.25,551.01H1211.75M1205.50,544.76V557.26"/><path d="M1206.45,550.99H1218.95M1212.70,544.74V557.24"/><path d="M1211.65,550.98H1224.15M1217.90,544.73V557.23"/><path d="M1215.65,550.97H1228.15M1221.90,544.72V557.22"/><path d="M1218.75,550.96H1231.25M1225.00,544.71V557.21"/><path d="M1220.95,550.95H1233.45M1227.20,544.70V557.20"/><path d="M1222.55,550.95H1235.05M1228.80,544.70V557.20"/><path d="M1223.75,550.94H1236.25M1230.00,544.69V557.19"/><path d="M1224.65,550.94H1237.15M1230.90,544.69V557.19"/><path d="M1225.25,550.93H1237.75M1231.50,544.68V557.18"/><path d="M1225.65,550.93H1238.15M1231.90,544.68V557.18"/><path d="M1225.95,550.93H1238.45M1232.20,544.68V557.18"/></g>
<path d="M170.00,808.00 L210.00,808.00 L211.30,806.00 L211.30,617.70 L211.30,655.00 L214.30,655.00 L217.30,655.00 L220.30,655.00 L223.30,655.00 L224.00,655.00 L226.30,655.00 L229.30,655.01 L232.30,655.02 L235.30,655.04 L238.30,655.06 L241.30,655.09 L244.30,655.13 L247.30,655.16 L250.30,655.21 L253.30,655.25 L256.30,655.30 L259.30,655.36 L262.30,655.41 L265.30,655.48 L268.30,655.54 L271.30,655.61 L274.30,655.68 L277.30,655.75 L280.30,655.82 L283.30,655.90 L286.30,655.98 L289.30,656.06 L292.30,656.14 L295.30,656.22 L298.30,656.31 L301.30,656.39 L304.30,656.48 L307.30,656.56 L310.30,656.65 L313.30,656.74 L316.30,656.82 L319.30,656.91 L322.30,656.99 L325.30,657.08 L328.30,657.16 L331.30,657.24 L334.30,657.33 L337.30,657.40 L340.30,657.48 L343.30,657.56 L345.00,657.60 L346.30,657.63 L349.30,657.71 L352.30,657.78 L355.30,657.86 L358.30,657.94 L361.30,658.02 L364.30,658.10 L367.30,658.19 L370.30,658.27 L373.30,658.35 L376.30,658.44 L379.30,658.52 L382.00,658.60 L382.30,658.61 L385.30,658.70 L388.30,658.79 L391.30,658.88 L394.30,658.97 L397.30,659.07 L400.30,659.16 L403.30,659.25 L406.30,659.33 L409.00,659.40 L409.30,659.41 L412.30,659.48 L415.30,659.55 L418.30,659.61 L421.30,659.68 L424.30,659.74 L427.30,659.80 L430.30,659.86 L433.30,659.92 L436.30,659.98 L437.00,660.00 L439.30,660.05 L442.30,660.11 L445.30,660.17 L448.30,660.23 L451.30,660.29 L454.30,660.35 L457.30,660.42 L460.30,660.50 L463.30,660.58 L464.00,660.60 L466.30,660.67 L469.30,660.78 L472.30,660.90 L475.30,661.02 L478.30,661.16 L481.30,661.31 L484.30,661.46 L487.00,661.60 L487.30,661.62 L490.30,661.78 L493.30,661.95 L496.30,662.13 L499.30,662.32 L502.30,662.51 L505.30,662.72 L508.30,662.94 L511.30,663.17 L514.30,663.41 L517.30,663.67 L520.30,663.94 L523.00,664.20 L523.30,664.23 L526.30,664.55 L529.30,664.90 L532.30,665.29 L535.30,665.70 L538.30,666.14 L541.30,666.61 L544.30,667.10 L547.30,667.60 L550.30,668.12 L553.30,668.64 L556.30,669.18 L559.30,669.71 L562.00,670.20 L562.30,670.25 L565.30,670.82 L568.30,671.43 L571.30,672.07 L574.30,672.72 L577.30,673.38 L580.30,674.03 L583.30,674.66 L585.00,675.00 L586.30,675.26 L589.30,675.84 L592.30,676.40 L595.30,676.97 L597.00,677.30 L598.30,677.56 L601.30,678.26 L604.30,679.02 L607.30,679.80 L610.30,680.54 L613.30,681.18 L616.30,681.67 L619.30,681.95 L621.00,682.00 L622.30,682.00 L625.30,681.98 L628.30,681.95 L631.30,681.92 L634.30,681.88 L637.30,681.86 L640.30,681.84 L641.00,681.84 L643.30,681.85 L646.30,681.87 L649.30,681.91 L652.30,681.96 L655.30,682.02 L658.30,682.08 L661.30,682.15 L664.30,682.21 L666.00,682.23 L667.30,682.26 L670.30,682.31 L673.30,682.36 L676.30,682.41 L679.30,682.46 L682.30,682.52 L685.30,682.57 L688.30,682.63 L691.00,682.68 L691.30,682.68 L694.30,682.74 L695.00,682.75 L697.30,682.80 L700.30,682.85 L703.30,682.91 L706.30,682.97 L709.30,683.03 L712.30,683.09 L715.30,683.15 L716.00,683.16 L718.30,683.21 L721.30,683.27 L724.30,683.33 L727.30,683.39 L729.00,683.43 L730.30,683.46 L733.30,683.52 L736.30,683.58 L739.30,683.65 L741.00,683.68 L742.30,683.71 L745.30,683.78 L748.30,683.84 L751.30,683.91 L754.30,683.97 L757.30,684.04 L760.00,684.10 L760.30,684.11 L763.30,684.17 L766.00,684.23 L766.30,684.24 L769.30,684.31 L772.30,684.38 L775.30,684.45 L778.00,684.51 L778.30,684.51 L781.30,684.58 L784.30,684.65 L787.30,684.72 L790.30,684.79 L791.00,684.81 L793.30,684.86 L794.00,684.88 L796.30,684.93 L799.30,685.00 L802.30,685.07 L805.30,685.15 L808.30,685.22 L811.30,685.29 L814.30,685.36 L816.00,685.40 L817.30,685.43 L820.30,685.50 L823.30,685.57 L825.00,685.61 L826.30,685.65 L829.30,685.72 L832.30,685.79 L835.30,685.86 L838.30,685.94 L841.00,686.00 L841.30,686.01 L844.30,686.08 L847.30,686.15 L850.30,686.23 L853.30,686.30 L856.30,686.37 L859.30,686.44 L862.30,686.52 L865.30,686.59 L866.00,686.61 L868.30,686.66 L871.30,686.73 L874.30,686.81 L877.30,686.88 L880.30,686.95 L883.30,687.02 L886.30,687.09 L889.30,687.17 L891.00,687.21 L892.30,687.24 L895.30,687.31 L898.30,687.38 L901.30,687.45 L904.30,687.52 L907.30,687.59 L910.30,687.67 L913.30,687.74 L916.00,687.80 L916.30,687.81 L919.30,687.88 L922.30,687.95 L924.00,687.99 L925.30,688.02 L928.30,688.09 L931.30,688.15 L934.30,688.22 L937.30,688.29 L940.30,688.36 L941.00,688.38 L943.30,688.43 L946.30,688.49 L949.30,688.56 L952.30,688.63 L955.30,688.69 L958.30,688.76 L961.30,688.83 L964.30,688.89 L966.00,688.93 L967.30,688.96 L970.30,689.02 L973.30,689.09 L976.00,689.14 L976.30,689.15 L979.30,689.21 L982.30,689.27 L985.30,689.34 L988.30,689.40 L991.00,689.45 L991.30,689.46 L994.30,689.52 L997.30,689.58 L1000.30,689.64 L1003.30,689.70 L1006.30,689.76 L1009.30,689.81 L1012.30,689.87 L1015.30,689.93 L1016.00,689.94 L1018.30,689.98 L1019.00,690.00 L1021.30,690.04 L1024.30,690.09 L1027.30,690.15 L1030.30,690.20 L1033.30,690.25 L1036.30,690.31 L1039.30,690.36 L1041.00,690.39 L1042.30,690.41 L1045.30,690.46 L1048.30,690.51 L1051.30,690.56 L1054.30,690.61 L1057.00,690.65 L1057.30,690.65 L1060.30,690.70 L1063.30,690.74 L1066.00,690.78 L1066.30,690.79 L1069.30,690.83 L1072.30,690.88 L1075.30,690.92 L1078.30,690.96 L1081.30,691.00 L1084.30,691.04 L1087.30,691.08 L1090.30,691.12 L1091.00,691.13 L1093.30,691.15 L1096.30,691.19 L1099.30,691.23 L1102.30,691.26 L1105.30,691.29 L1108.30,691.33 L1111.30,691.36 L1114.30,691.39 L1116.00,691.41 L1117.30,691.42 L1120.30,691.45 L1123.30,691.47 L1126.30,691.50 L1129.30,691.53 L1132.30,691.55 L1135.30,691.58 L1138.30,691.60 L1141.00,691.62 L1141.30,691.62 L1144.30,691.64 L1147.30,691.66 L1150.30,691.68 L1153.30,691.69 L1156.30,691.71 L1159.30,691.73 L1162.30,691.74 L1165.30,691.75 L1166.00,691.75 L1168.30,691.76 L1171.30,691.77 L1174.30,691.78 L1177.30,691.79 L1180.30,691.79 L1183.30,691.80 L1186.30,691.80 L1189.30,691.81 L1191.00,691.81 L1192.30,691.81 L1195.30,691.81 L1198.30,691.80 L1201.30,691.80 L1204.30,691.80 L1207.30,691.79 L1210.30,691.78 L1213.30,691.78 L1216.00,691.77 L1216.30,691.77 L1219.30,691.76 L1222.30,691.75 L1225.30,691.74 L1228.30,691.72 L1231.30,691.71 L1232.20,691.70" fill="none" stroke="#000000" stroke-opacity="0.65" stroke-width="4.17" stroke-linejoin="round"/>
<g fill="#000000" fill-opacity="0.65" stroke="#000" stroke-opacity="0.65" stroke-width="2.08" stroke-linejoin="miter"><path d="M210.00,799.60 L215.30,808.00 L210.00,816.40 L204.70,808.00Z"/><path d="M211.30,784.60 L216.60,793.00 L211.30,801.40 L206.00,793.00Z"/><path d="M211.30,780.60 L216.60,789.00 L211.30,797.40 L206.00,789.00Z"/><path d="M211.30,646.60 L216.60,655.00 L211.30,663.40 L206.00,655.00Z"/><path d="M224.00,646.60 L229.30,655.00 L224.00,663.40 L218.70,655.00Z"/><path d="M345.00,649.20 L350.30,657.60 L345.00,666.00 L339.70,657.60Z"/><path d="M382.00,650.20 L387.30,658.60 L382.00,667.00 L376.70,658.60Z"/><path d="M409.00,651.00 L414.30,659.40 L409.00,667.80 L403.70,659.40Z"/><path d="M437.00,651.60 L442.30,660.00 L437.00,668.40 L431.70,660.00Z"/><path d="M464.00,652.20 L469.30,660.60 L464.00,669.00 L458.70,660.60Z"/><path d="M487.00,653.20 L492.30,661.60 L487.00,670.00 L481.70,661.60Z"/><path d="M523.00,655.80 L528.30,664.20 L523.00,672.60 L517.70,664.20Z"/><path d="M562.00,661.80 L567.30,670.20 L562.00,678.60 L556.70,670.20Z"/><path d="M585.00,666.60 L590.30,675.00 L585.00,683.40 L579.70,675.00Z"/><path d="M597.00,668.90 L602.30,677.30 L597.00,685.70 L591.70,677.30Z"/><path d="M621.00,673.60 L626.30,682.00 L621.00,690.40 L615.70,682.00Z"/><path d="M641.00,673.44 L646.30,681.84 L641.00,690.24 L635.70,681.84Z"/><path d="M659.00,673.70 L664.30,682.10 L659.00,690.50 L653.70,682.10Z"/><path d="M678.00,674.04 L683.30,682.44 L678.00,690.84 L672.70,682.44Z"/><path d="M695.00,674.35 L700.30,682.75 L695.00,691.15 L689.70,682.75Z"/><path d="M711.00,674.66 L716.30,683.06 L711.00,691.46 L705.70,683.06Z"/><path d="M729.00,675.03 L734.30,683.43 L729.00,691.83 L723.70,683.43Z"/><path d="M760.00,675.70 L765.30,684.10 L760.00,692.50 L754.70,684.10Z"/><path d="M778.50,676.12 L783.80,684.52 L778.50,692.92 L773.20,684.52Z"/><path d="M794.00,676.48 L799.30,684.88 L794.00,693.28 L788.70,684.88Z"/><path d="M809.50,676.84 L814.80,685.24 L809.50,693.64 L804.20,685.24Z"/><path d="M825.00,677.21 L830.30,685.61 L825.00,694.01 L819.70,685.61Z"/><path d="M841.00,677.60 L846.30,686.00 L841.00,694.40 L835.70,686.00Z"/><path d="M866.00,678.21 L871.30,686.61 L866.00,695.01 L860.70,686.61Z"/><path d="M924.00,679.59 L929.30,687.99 L924.00,696.39 L918.70,687.99Z"/><path d="M976.00,680.74 L981.30,689.14 L976.00,697.54 L970.70,689.14Z"/><path d="M1019.00,681.60 L1024.30,690.00 L1019.00,698.40 L1013.70,690.00Z"/><path d="M1057.00,682.25 L1062.30,690.65 L1057.00,699.05 L1051.70,690.65Z"/><path d="M1093.00,682.75 L1098.30,691.15 L1093.00,699.55 L1087.70,691.15Z"/><path d="M1123.00,683.07 L1128.30,691.47 L1123.00,699.87 L1117.70,691.47Z"/><path d="M1149.00,683.27 L1154.30,691.67 L1149.00,700.07 L1143.70,691.67Z"/><path d="M1169.00,683.36 L1174.30,691.76 L1169.00,700.16 L1163.70,691.76Z"/><path d="M1185.00,683.40 L1190.30,691.80 L1185.00,700.20 L1179.70,691.80Z"/><path d="M1196.00,683.41 L1201.30,691.81 L1196.00,700.21 L1190.70,691.81Z"/><path d="M1205.50,683.39 L1210.80,691.79 L1205.50,700.19 L1200.20,691.79Z"/><path d="M1212.70,683.38 L1218.00,691.78 L1212.70,700.18 L1207.40,691.78Z"/><path d="M1217.90,683.37 L1223.20,691.77 L1217.90,700.17 L1212.60,691.77Z"/><path d="M1221.90,683.35 L1227.20,691.75 L1221.90,700.15 L1216.60,691.75Z"/><path d="M1225.00,683.34 L1230.30,691.74 L1225.00,700.14 L1219.70,691.74Z"/><path d="M1227.20,683.33 L1232.50,691.73 L1227.20,700.13 L1221.90,691.73Z"/><path d="M1228.80,683.32 L1234.10,691.72 L1228.80,700.12 L1223.50,691.72Z"/><path d="M1230.00,683.31 L1235.30,691.71 L1230.00,700.11 L1224.70,691.71Z"/><path d="M1230.90,683.31 L1236.20,691.71 L1230.90,700.11 L1225.60,691.71Z"/><path d="M1231.50,683.30 L1236.80,691.70 L1231.50,700.10 L1226.20,691.70Z"/><path d="M1231.90,683.30 L1237.20,691.70 L1231.90,700.10 L1226.60,691.70Z"/><path d="M1232.20,683.30 L1237.50,691.70 L1232.20,700.10 L1226.90,691.70Z"/></g>
<path d="M170.00,932.00 L210.00,932.00 L211.30,930.00 L211.30,772.00 L211.30,814.00 L214.30,814.00 L217.30,814.00 L220.30,814.00 L223.30,814.00 L224.00,814.00 L226.30,814.00 L229.30,814.01 L232.30,814.03 L235.30,814.05 L238.30,814.08 L241.30,814.11 L244.30,814.15 L247.30,814.20 L250.30,814.25 L253.30,814.30 L256.30,814.36 L259.30,814.43 L262.30,814.50 L265.30,814.57 L268.30,814.64 L271.30,814.72 L274.30,814.81 L277.30,814.89 L280.30,814.98 L283.30,815.07 L286.30,815.16 L289.30,815.26 L292.30,815.35 L295.30,815.45 L298.30,815.55 L301.30,815.64 L304.30,815.74 L307.30,815.84 L310.30,815.94 L313.30,816.04 L316.30,816.14 L319.30,816.24 L322.30,816.33 L325.30,816.43 L328.30,816.52 L331.30,816.61 L334.30,816.70 L337.30,816.79 L340.30,816.87 L343.30,816.96 L345.00,817.00 L346.30,817.03 L349.30,817.11 L352.30,817.19 L355.30,817.26 L358.30,817.34 L361.30,817.42 L364.30,817.50 L367.30,817.58 L370.30,817.66 L373.30,817.74 L376.30,817.83 L379.30,817.92 L382.00,818.00 L382.30,818.01 L385.30,818.12 L388.30,818.25 L391.30,818.40 L394.30,818.55 L397.30,818.69 L400.30,818.82 L403.30,818.92 L406.30,818.98 L409.00,819.00 L409.30,819.00 L412.30,819.00 L415.30,819.00 L418.30,819.00 L421.30,819.00 L424.30,819.00 L427.30,819.00 L430.30,819.00 L433.30,819.00 L436.30,819.00 L437.00,819.00 L439.30,819.01 L442.30,819.07 L445.30,819.15 L448.30,819.27 L451.30,819.40 L454.30,819.55 L457.30,819.69 L460.30,819.84 L463.30,819.97 L464.00,820.00 L466.30,820.09 L469.30,820.21 L472.30,820.33 L475.30,820.45 L478.30,820.57 L481.30,820.71 L484.30,820.86 L487.00,821.00 L487.30,821.02 L490.30,821.20 L493.30,821.39 L496.30,821.60 L499.30,821.83 L502.30,822.07 L505.30,822.32 L508.30,822.59 L511.30,822.86 L514.30,823.14 L517.30,823.43 L520.30,823.73 L523.00,824.00 L523.30,824.03 L526.30,824.34 L529.30,824.67 L532.30,825.01 L535.30,825.36 L538.30,825.73 L541.30,826.11 L544.30,826.50 L547.30,826.90 L550.30,827.31 L553.30,827.73 L556.30,828.16 L559.30,828.60 L562.00,829.00 L562.30,829.05 L565.30,829.52 L568.30,830.03 L571.30,830.57 L574.30,831.12 L577.30,831.67 L580.30,832.21 L583.30,832.72 L585.00,833.00 L586.30,833.20 L589.30,833.65 L592.30,834.09 L595.30,834.53 L597.00,834.80 L598.30,835.02 L601.30,835.62 L604.30,836.30 L607.30,836.99 L610.30,837.66 L613.30,838.25 L616.30,838.70 L619.30,838.96 L621.00,839.00 L622.30,838.99 L625.30,838.94 L628.30,838.86 L631.30,838.75 L634.30,838.65 L637.30,838.57 L640.30,838.53 L641.00,838.53 L643.30,838.54 L646.30,838.56 L649.30,838.59 L652.30,838.64 L655.30,838.69 L658.30,838.74 L661.30,838.80 L664.30,838.85 L666.00,838.87 L667.30,838.89 L670.30,838.93 L673.30,838.98 L676.30,839.02 L679.30,839.07 L682.30,839.11 L685.30,839.16 L688.30,839.20 L691.00,839.24 L691.30,839.25 L694.30,839.30 L695.00,839.31 L697.30,839.34 L700.30,839.39 L703.30,839.44 L706.30,839.49 L709.30,839.54 L711.00,839.56 L712.30,839.58 L715.30,839.63 L716.00,839.65 L718.30,839.68 L721.30,839.73 L724.30,839.79 L727.30,839.84 L730.30,839.89 L733.30,839.94 L736.30,839.99 L739.30,840.04 L741.00,840.07 L742.30,840.09 L745.30,840.15 L748.30,840.20 L751.30,840.25 L754.30,840.31 L757.30,840.36 L760.00,840.41 L760.30,840.41 L763.30,840.47 L766.00,840.52 L766.30,840.52 L769.30,840.58 L772.30,840.63 L775.30,840.69 L778.00,840.73 L778.30,840.74 L781.30,840.80 L784.30,840.85 L787.30,840.91 L790.30,840.96 L791.00,840.98 L793.30,841.02 L796.30,841.07 L799.30,841.13 L802.30,841.19 L805.30,841.24 L808.30,841.30 L809.00,841.31 L811.30,841.36 L814.30,841.41 L816.00,841.45 L817.30,841.47 L820.30,841.53 L823.30,841.59 L825.00,841.62 L826.30,841.64 L829.30,841.70 L832.30,841.76 L835.30,841.81 L838.30,841.87 L841.00,841.92 L841.30,841.93 L844.30,841.99 L847.30,842.04 L850.30,842.10 L853.30,842.16 L856.30,842.22 L859.30,842.28 L862.30,842.33 L865.30,842.39 L866.00,842.40 L868.30,842.45 L871.30,842.51 L874.30,842.56 L877.30,842.62 L880.30,842.68 L883.30,842.73 L886.30,842.79 L889.30,842.85 L891.00,842.88 L892.30,842.91 L895.30,842.96 L898.30,843.02 L901.30,843.08 L904.30,843.13 L907.30,843.19 L910.30,843.25 L913.30,843.30 L916.00,843.35 L916.30,843.36 L919.30,843.41 L922.30,843.47 L924.00,843.50 L925.30,843.53 L928.30,843.58 L931.30,843.64 L934.30,843.69 L937.30,843.75 L940.30,843.80 L941.00,843.81 L943.30,843.86 L946.30,843.91 L949.30,843.96 L952.30,844.02 L955.30,844.07 L958.30,844.12 L961.30,844.18 L964.30,844.23 L966.00,844.26 L967.30,844.28 L970.30,844.33 L973.30,844.39 L976.00,844.43 L976.30,844.44 L979.30,844.49 L982.30,844.54 L985.30,844.59 L988.30,844.64 L991.00,844.69 L991.30,844.69 L994.30,844.74 L997.30,844.79 L1000.30,844.84 L1003.30,844.89 L1006.30,844.94 L1009.30,844.98 L1012.30,845.03 L1015.30,845.08 L1016.00,845.09 L1018.30,845.13 L1019.00,845.14 L1021.30,845.17 L1024.30,845.22 L1027.30,845.26 L1030.30,845.31 L1033.30,845.35 L1036.30,845.40 L1039.30,845.44 L1041.00,845.47 L1042.30,845.48 L1045.30,845.53 L1048.30,845.57 L1051.30,845.61 L1054.30,845.65 L1057.00,845.69 L1057.30,845.69 L1060.30,845.73 L1063.30,845.77 L1066.00,845.81 L1066.30,845.81 L1069.30,845.85 L1072.30,845.89 L1075.30,845.93 L1078.30,845.96 L1081.30,846.00 L1084.30,846.04 L1087.30,846.07 L1090.30,846.11 L1091.00,846.12 L1093.30,846.14 L1096.30,846.18 L1099.30,846.21 L1102.30,846.24 L1105.30,846.27 L1108.30,846.30 L1111.30,846.33 L1114.30,846.37 L1116.00,846.38 L1117.30,846.40 L1120.30,846.42 L1123.00,846.45 L1123.30,846.45 L1126.30,846.48 L1129.30,846.51 L1132.30,846.53 L1135.30,846.56 L1138.30,846.58 L1141.00,846.60 L1141.30,846.61 L1144.30,846.63 L1147.30,846.65 L1149.00,846.66 L1150.30,846.67 L1153.30,846.69 L1156.30,846.72 L1159.30,846.74 L1162.30,846.75 L1165.30,846.77 L1166.00,846.78 L1168.30,846.79 L1171.30,846.80 L1174.30,846.82 L1177.30,846.84 L1180.30,846.85 L1183.30,846.86 L1186.30,846.88 L1189.30,846.89 L1191.00,846.89 L1192.30,846.90 L1195.30,846.91 L1198.30,846.92 L1201.30,846.93 L1204.30,846.93 L1207.30,846.94 L1210.30,846.95 L1213.30,846.95 L1216.00,846.95 L1216.30,846.95 L1219.30,846.96 L1222.30,846.96 L1225.30,846.96 L1228.30,846.96 L1231.30,846.96 L1232.20,846.96" fill="none" stroke="#0000ff" stroke-opacity="0.65" stroke-width="4.17" stroke-linejoin="round"/>
<g fill="#0000ff" fill-opacity="0.65" stroke="#0000ff" stroke-opacity="0.65" stroke-width="2.08"><circle cx="210.00" cy="932.00" r="3.12"/><circle cx="211.30" cy="927.50" r="3.12"/><circle cx="211.30" cy="925.00" r="3.12"/><circle cx="211.30" cy="814.00" r="3.12"/><circle cx="224.00" cy="814.00" r="3.12"/><circle cx="345.00" cy="817.00" r="3.12"/><circle cx="382.00" cy="818.00" r="3.12"/><circle cx="409.00" cy="819.00" r="3.12"/><circle cx="437.00" cy="819.00" r="3.12"/><circle cx="464.00" cy="820.00" r="3.12"/><circle cx="487.00" cy="821.00" r="3.12"/><circle cx="523.00" cy="824.00" r="3.12"/><circle cx="562.00" cy="829.00" r="3.12"/><circle cx="585.00" cy="833.00" r="3.12"/><circle cx="597.00" cy="834.80" r="3.12"/><circle cx="621.00" cy="839.00" r="3.12"/><circle cx="641.00" cy="838.53" r="3.12"/><circle cx="659.00" cy="838.75" r="3.12"/><circle cx="678.00" cy="839.05" r="3.12"/><circle cx="695.00" cy="839.31" r="3.12"/><circle cx="711.00" cy="839.56" r="3.12"/><circle cx="729.00" cy="839.86" r="3.12"/><circle cx="760.00" cy="840.41" r="3.12"/><circle cx="778.50" cy="840.74" r="3.12"/><circle cx="794.00" cy="841.03" r="3.12"/><circle cx="809.50" cy="841.32" r="3.12"/><circle cx="825.00" cy="841.62" r="3.12"/><circle cx="841.00" cy="841.92" r="3.12"/><circle cx="866.00" cy="842.40" r="3.12"/><circle cx="924.00" cy="843.50" r="3.12"/><circle cx="976.00" cy="844.43" r="3.12"/><circle cx="1019.00" cy="845.14" r="3.12"/><circle cx="1057.00" cy="845.69" r="3.12"/><circle cx="1093.00" cy="846.14" r="3.12"/><circle cx="1123.00" cy="846.45" r="3.12"/><circle cx="1149.00" cy="846.66" r="3.12"/><circle cx="1169.00" cy="846.79" r="3.12"/><circle cx="1185.00" cy="846.87" r="3.12"/><circle cx="1196.00" cy="846.91" r="3.12"/><circle cx="1205.50" cy="846.94" r="3.12"/><circle cx="1212.70" cy="846.95" r="3.12"/><circle cx="1217.90" cy="846.96" r="3.12"/><circle cx="1221.90" cy="846.96" r="3.12"/><circle cx="1225.00" cy="846.96" r="3.12"/><circle cx="1227.20" cy="846.96" r="3.12"/><circle cx="1228.80" cy="846.96" r="3.12"/><circle cx="1230.00" cy="846.96" r="3.12"/><circle cx="1230.90" cy="846.96" r="3.12"/><circle cx="1231.50" cy="846.96" r="3.12"/><circle cx="1231.90" cy="846.96" r="3.12"/><circle cx="1232.20" cy="846.96" r="3.12"/></g>
</g>
<g stroke="#000" stroke-width="2" fill="none" shape-rendering="crispEdges"><rect x="188.0" y="105.0" width="1046.0" height="840.0"/><path d="M188.0,105.0h17M188.0,225.0h17M188.0,189h13M188.0,153h13M188.0,132h13M188.0,117h13M188.0,345.0h17M188.0,309h13M188.0,273h13M188.0,252h13M188.0,237h13M188.0,465.0h17M188.0,429h13M188.0,393h13M188.0,372h13M188.0,357h13M188.0,585.0h17M188.0,549h13M188.0,513h13M188.0,492h13M188.0,477h13M188.0,705.0h17M188.0,669h13M188.0,633h13M188.0,612h13M188.0,597h13M188.0,825.0h17M188.0,789h13M188.0,753h13M188.0,732h13M188.0,717h13M188.0,945.0h17M188.0,909h13M188.0,873h13M188.0,852h13M188.0,837h13M324,105.0v17M324,945.0v-17M551,105.0v17M551,945.0v-17M779,105.0v17M779,945.0v-17M1006,105.0v17M1006,945.0v-17M1234,105.0v17M1234,945.0v-17M1234.0,945h-17M1234.0,795h-17M1234.0,646h-17M1234.0,496h-17M1234.0,346h-17M1234.0,196h-17"/></g>
<g clip-path="url(#ax)"><path d="M390.00,945.00 L390.00,767.00 L389.98,767.00 L390.28,763.82 L390.59,760.64 L390.92,757.46 L391.27,754.28 L391.63,751.11 L392.01,747.94 L392.39,744.77 L392.79,741.60 L393.20,738.43 L393.62,735.26 L394.05,732.10 L394.48,728.94 L394.92,725.77 L395.37,722.61 L395.83,719.45 L396.29,716.29 L396.75,713.13 L397.22,709.97 L397.69,706.81 L398.16,703.65 L398.63,700.49 L399.10,697.33 L399.56,694.17 L400.03,691.01 L400.49,687.84 L400.95,684.68 L401.41,681.52 L401.86,678.36 L402.30,675.19 L402.74,672.03 L403.17,668.86 L403.60,665.70 L404.03,662.53 L404.45,659.37 L404.88,656.20 L405.31,653.03 L405.74,649.87 L406.17,646.70 L406.61,643.54 L407.06,640.38 L407.51,637.21 L407.97,634.05 L408.44,630.89 L408.92,627.74 L409.40,624.58 L409.89,621.42 L410.39,618.27 L410.89,615.11 L411.40,611.96 L411.92,608.81 L412.44,605.66 L412.97,602.51 L413.50,599.36 L414.04,596.21 L414.58,593.06 L415.13,589.92 L415.68,586.77 L416.24,583.63 L416.81,580.48 L417.38,577.34 L417.95,574.20 L418.52,571.05 L419.10,567.91 L419.69,564.77 L420.28,561.63 L420.87,558.49 L421.46,555.35 L422.06,552.22 L422.66,549.08 L423.26,545.94 L423.87,542.81 L424.48,539.67 L425.09,536.53 L425.71,533.40 L426.32,530.26 L426.94,527.13 L427.56,524.00 L428.19,520.86 L428.81,517.73 L429.44,514.60 L430.06,511.46 L430.69,508.33 L431.32,505.20 L431.95,502.07 L432.59,498.94 L433.22,495.81 L433.85,492.68 L434.49,489.55 L435.12,486.42 L435.75,483.29 L436.39,480.16 L437.03,477.03 L437.67,473.90 L438.31,470.77 L438.96,467.65 L439.62,464.52 L440.29,461.40 L440.98,458.28 L441.68,455.17 L442.39,452.06 L443.12,448.95 L443.87,445.84 L444.64,442.74 L445.43,439.65 L446.25,436.56 L447.08,433.48 L447.94,430.40 L448.82,427.32 L449.71,424.25 L450.62,421.18 L451.54,418.12 L452.47,415.06 L453.40,412.00 L454.35,408.95 L455.30,405.90 L456.26,402.85 L457.21,399.80 L458.17,396.76 L459.13,393.71 L460.09,390.68 L461.06,387.64 L462.04,384.61 L463.04,381.59 L464.06,378.57 L465.09,375.56 L466.15,372.56 L467.24,369.56 L468.35,366.58 L469.50,363.60 L470.68,360.64 L471.90,357.68 L473.16,354.74 L474.46,351.81 L475.80,348.90 L477.18,346.00 L478.60,343.12 L480.06,340.27 L481.57,337.43 L483.11,334.62 L484.70,331.83 L486.33,329.07 L488.00,326.34 L489.72,323.63 L491.48,320.96 L493.28,318.32 L495.13,315.71 L497.02,313.13 L498.96,310.60 L500.95,308.10 L502.98,305.65 L505.05,303.23 L507.18,300.86 L509.35,298.53 L511.57,296.24 L513.83,294.00 L516.13,291.81 L518.48,289.65 L520.86,287.54 L523.29,285.47 L525.75,283.45 L528.25,281.46 L530.78,279.52 L533.34,277.61 L535.94,275.75 L538.57,273.93 L541.22,272.14 L543.91,270.40 L546.62,268.70 L549.36,267.05 L552.14,265.46 L554.96,263.93 L557.82,262.48 L560.72,261.10 L563.68,259.80 L566.68,258.60 L569.74,257.50 L572.84,256.52 L575.98,255.71 L579.15,255.12 L582.31,254.81 L585.46,254.82 L588.57,255.16 L591.62,255.83 L594.58,256.81 L597.42,258.09 L600.12,259.65 L602.65,261.49 L604.98,263.59 L607.09,265.94 L608.94,268.53 L610.56,271.32 L611.95,274.27 L613.16,277.34 L614.20,280.49 L615.11,283.67 L615.90,286.85 L616.62,289.98 L617.28,293.02 L617.91,295.92 L619.30,299.30 L621.30,296.00 L623.00,300.00 L623.60,313.00 L623.30,319.30 L625.98,324.00 L626.87,325.95 L627.71,327.91 L628.52,329.88 L629.29,331.87 L630.03,333.86 L630.73,335.86 L631.42,337.87 L632.07,339.89 L632.71,341.91 L633.32,343.94 L633.92,345.98 L634.50,348.02 L635.07,350.07 L635.63,352.11 L636.18,354.17 L636.73,356.22 L637.28,358.27 L637.82,360.32 L638.37,362.38 L638.92,364.43 L639.47,366.48 L640.02,368.53 L640.57,370.59 L641.12,372.64 L641.67,374.69 L642.21,376.75 L642.75,378.80 L643.29,380.86 L643.82,382.91 L644.35,384.97 L644.87,387.03 L645.39,389.09 L645.90,391.15 L646.40,393.22 L646.89,395.28 L647.37,397.35 L647.84,399.42 L648.30,401.50 L648.75,403.57 L649.19,405.65 L649.62,407.74 L650.03,409.82 L650.43,411.91 L650.82,414.00 L651.20,416.09 L651.57,418.19 L651.94,420.28 L652.30,422.38 L652.66,424.48 L653.02,426.57 L653.38,428.67 L653.75,430.76 L654.12,432.85 L654.51,434.94 L654.90,437.03 L655.30,439.11 L655.72,441.19 L656.15,443.26 L656.59,445.33 L657.04,447.40 L657.50,449.46 L657.97,451.53 L658.43,453.59 L658.90,455.66 L659.37,457.73 L659.83,459.79 L660.29,461.87 L660.75,463.94 L661.19,466.02 L661.63,468.10 L662.06,470.18 L662.49,472.27 L662.91,474.36 L663.32,476.45 L663.73,478.54 L664.14,480.63 L664.54,482.73 L664.93,484.82 L665.32,486.92 L665.71,489.02 L666.09,491.12 L666.47,493.21 L666.84,495.31 L667.22,497.41 L667.59,499.50 L667.95,501.60 L668.32,503.69 L668.68,505.78 L669.04,507.87 L669.40,509.96 L669.76,512.05 L670.12,514.13 L670.48,516.21 L670.84,518.29 L671.20,520.37 L671.57,522.44 L671.95,524.52 L672.33,526.59 L672.72,528.66 L673.12,530.73 L673.53,532.80 L673.96,534.87 L674.40,536.93 L674.85,539.00 L675.32,541.06 L675.81,543.13 L676.32,545.19 L676.84,547.26 L677.39,549.32 L677.97,551.38 L678.56,553.45 L679.19,555.51 L679.84,557.58 L680.52,559.64 L681.23,561.71 L681.97,563.78 L682.74,565.85 L683.54,567.92 L684.39,569.99 L685.33,571.94 L686.56,573.46 L688.14,574.18 L689.58,573.79 L690.76,572.44 L691.77,570.57 L692.71,568.57 L693.59,566.56 L694.42,564.54 L695.21,562.52 L695.95,560.49 L696.66,558.45 L697.32,556.41 L697.95,554.36 L698.54,552.31 L699.10,550.25 L699.64,548.19 L700.14,546.13 L700.62,544.06 L701.08,541.98 L701.52,539.91 L701.94,537.83 L702.35,535.75 L702.74,533.67 L703.12,531.58 L703.50,529.50 L703.87,527.41 L704.23,525.32 L704.59,523.24 L704.96,521.15 L705.33,519.06 L705.70,516.98 L706.08,514.89 L706.47,512.80 L706.87,510.72 L707.27,508.64 L707.68,506.55 L708.09,504.47 L708.51,502.39 L708.93,500.31 L709.36,498.23 L709.79,496.15 L710.22,494.07 L710.65,491.98 L711.09,489.90 L711.52,487.82 L711.95,485.74 L712.38,483.66 L712.81,481.58 L713.24,479.49 L713.67,477.41 L714.08,475.32 L714.50,473.24 L714.91,471.15 L715.32,469.06 L715.72,466.98 L716.12,464.89 L716.52,462.80 L716.92,460.71 L717.32,458.62 L717.72,456.54 L718.13,454.45 L718.54,452.37 L718.95,450.28 L719.37,448.20 L719.80,446.12 L720.24,444.05 L720.68,441.97 L721.14,439.90 L721.61,437.83 L722.09,435.77 L722.58,433.70 L723.09,431.65 L723.61,429.59 L724.15,427.54 L724.71,425.50 L725.28,423.46 L725.88,421.42 L726.49,419.39 L727.13,417.37 L727.78,415.35 L728.46,413.33 L729.13,411.30 L729.79,409.27 L730.44,407.21 L731.06,405.14 L731.66,403.05 L732.27,400.97 L732.92,398.91 L733.65,396.91 L734.49,394.98 L735.47,393.14 L736.63,391.42 L737.97,389.82 L739.41,388.28 L740.85,386.70 L742.16,384.99 L743.31,383.13 L744.43,381.27 L745.71,379.56 L747.29,378.16 L749.14,377.17 L751.15,376.65 L753.20,376.65 L755.20,377.24 L757.03,378.38 L758.66,379.84 L760.10,381.45 L761.39,383.15 L762.58,384.91 L763.74,386.70 L764.89,388.50 L766.03,390.31 L767.13,392.13 L768.20,393.97 L769.23,395.83 L770.20,397.72 L771.11,399.63 L771.96,401.56 L772.76,403.51 L773.52,405.49 L774.24,407.48 L774.92,409.48 L775.57,411.50 L776.19,413.54 L776.79,415.58 L777.38,417.62 L777.95,419.68 L778.52,421.73 L779.09,423.79 L779.67,425.84 L780.25,427.89 L780.85,429.94 L781.46,431.98 L782.09,434.01 L782.72,436.04 L783.37,438.06 L784.01,440.09 L784.65,442.11 L785.29,444.14 L785.92,446.17 L786.54,448.20 L787.14,450.23 L787.73,452.27 L788.31,454.31 L788.87,456.36 L789.43,458.40 L789.97,460.45 L790.51,462.51 L791.04,464.56 L791.56,466.62 L792.07,468.68 L792.57,470.75 L793.07,472.81 L793.56,474.88 L794.04,476.94 L794.52,479.01 L795.00,481.08 L795.47,483.16 L795.94,485.23 L796.41,487.30 L796.87,489.38 L797.33,491.45 L797.80,493.52 L798.26,495.60 L798.72,497.67 L799.18,499.75 L799.65,501.82 L800.12,503.90 L800.58,505.97 L801.05,508.04 L801.52,510.12 L802.00,512.19 L802.47,514.26 L802.94,516.33 L803.42,518.40 L803.89,520.48 L804.37,522.55 L804.84,524.62 L805.32,526.69 L805.80,528.76 L806.27,530.83 L806.75,532.90 L807.22,534.97 L807.70,537.05 L808.18,539.12 L808.65,541.19 L809.12,543.26 L809.60,545.33 L810.07,547.40 L810.54,549.47 L811.01,551.55 L811.48,553.62 L811.95,555.69 L812.42,557.76 L812.88,559.84 L813.34,561.91 L813.81,563.98 L814.26,566.06 L814.72,568.13 L815.18,570.21 L815.63,572.28 L816.08,574.36 L816.53,576.43 L816.97,578.51 L817.42,580.59 L817.85,582.66 L818.29,584.74 L818.72,586.82 L819.16,588.90 L819.58,590.98 L820.01,593.06 L820.42,595.14 L820.84,597.22 L821.25,599.31 L821.66,601.39 L822.07,603.48 L822.47,605.56 L822.86,607.65 L823.25,609.73 L823.64,611.82 L824.03,613.91 L824.41,616.00 L824.79,618.09 L825.16,620.18 L825.53,622.27 L825.90,624.36 L826.27,626.46 L826.63,628.55 L826.99,630.64 L827.35,632.74 L827.70,634.83 L828.06,636.92 L828.41,639.02 L828.76,641.11 L829.11,643.21 L829.46,645.31 L829.81,647.40 L830.15,649.50 L830.50,651.60 L830.84,653.69 L831.19,655.79 L831.53,657.89 L831.87,659.98 L832.22,662.08 L832.56,664.18 L832.90,666.27 L833.24,668.37 L833.59,670.47 L833.93,672.56 L834.28,674.66 L834.62,676.76 L834.97,678.85 L835.32,680.95 L835.67,683.05 L836.02,685.14 L836.38,687.24 L836.73,689.33 L837.09,691.43 L837.45,693.52 L837.81,695.62 L838.17,697.71 L838.53,699.80 L838.89,701.90 L839.26,703.99 L839.63,706.08 L840.00,708.18 L840.37,710.27 L840.74,712.36 L841.11,714.45 L841.48,716.54 L841.86,718.63 L842.23,720.73 L842.61,722.82 L842.98,724.91 L843.36,727.00 L843.74,729.09 L844.12,731.18 L844.50,733.27 L844.88,735.36 L845.26,737.45 L845.65,739.54 L846.03,741.63 L846.41,743.72 L846.80,745.81 L847.18,747.90 L847.57,749.99 L847.95,752.08 L848.34,754.17 L848.72,756.26 L849.11,758.35 L849.50,760.43 L849.88,762.52 L850.27,764.61 L850.66,766.70 L851.04,768.79 L851.43,770.88 L851.82,772.97 L852.20,775.06 L852.59,777.15 L852.97,779.24 L853.36,781.32 L853.74,783.41 L854.13,785.50 L854.51,787.59 L854.90,789.68 L855.28,791.77 L855.66,793.86 L856.05,795.95 L856.43,798.04 L856.81,800.13 L857.19,802.22 L857.57,804.31 L857.95,806.40 L858.32,808.49 L858.70,810.58 L859.08,812.67 L859.45,814.76 L859.83,816.85 L860.20,818.94 L860.57,821.04 L860.94,823.13 L861.31,825.22 L861.68,827.31 L862.05,829.40 L862.41,831.49 L862.77,833.59 L863.14,835.68 L863.50,837.77 L863.86,839.87 L864.21,841.96 L864.57,844.05 L864.93,846.15 L865.28,848.24 L865.63,850.34 L865.98,852.43 L866.33,854.53 L866.67,856.62 L867.02,858.72 L867.36,860.81 L867.70,862.91 L868.03,865.01 L868.37,867.11 L868.70,869.20 L869.03,871.30 L869.36,873.40 L869.69,875.50 L870.01,877.60 L870.33,879.70 L870.65,881.80 L870.97,883.90 L871.28,886.00 L871.60,888.10 L871.90,890.20 L872.21,892.30 L872.51,894.41 L872.82,896.51 L873.11,898.61 L873.41,900.72 L873.70,902.82 L873.99,904.93 L874.28,907.03 L874.56,909.14 L874.84,911.24 L875.12,913.35 L875.39,915.46 L875.66,917.57 L875.93,919.68 L876.19,921.79 L876.46,923.90 L876.71,926.01 L876.97,928.12 L877.22,930.23 L877.46,932.34 L877.71,934.45 L877.95,936.57 L878.18,938.68 L878.42,940.80 L878.65,942.91 L878.87,946.00" fill="none" stroke="#ffa500" stroke-width="2.5" stroke-linejoin="round"/></g><rect x="188.0" y="105.0" width="1046.0" height="840.0" fill="none" stroke="#000" stroke-width="2" shape-rendering="crispEdges"/>
<rect x="1325" y="632" width="111" height="239.6" fill="#fff" stroke="#000" stroke-width="2.08"/>
<path d="M1334,649H1380" fill="none" stroke="#0000ff" stroke-opacity="0.65" stroke-width="4.17" stroke-linejoin="round" stroke-dasharray="6.25 10.42 2.08 10.42" stroke-dashoffset="0.00"/>
<path d="M1332,683.3H1382" fill="none" stroke="#ff0000" stroke-opacity="0.65" stroke-width="4.17"/>
<g fill="#ff0000" fill-opacity="0.65" stroke="#000" stroke-opacity="0.65" stroke-width="2.08" stroke-linejoin="miter"><rect x="1350.85" y="677.15" width="12.3" height="12.3" rx="4"/></g>
<path d="M1332,717.6H1382" fill="none" stroke="#0000ff" stroke-opacity="0.65" stroke-width="4.17"/>
<g fill="#0000ff" fill-opacity="0.65" stroke="#000" stroke-opacity="0.65" stroke-width="2.08" stroke-linejoin="miter"><rect x="1350.75" y="711.35" width="12.5" height="12.5"/></g>
<path d="M1334,751.9H1380" fill="none" stroke="#000000" stroke-opacity="0.65" stroke-width="4.17" stroke-linejoin="round" stroke-dasharray="12.5 12.5" stroke-dashoffset="0.00"/>
<path d="M1334,786.2H1380" fill="none" stroke="#ff0000" stroke-opacity="0.65" stroke-width="4.17" stroke-linejoin="round" stroke-dasharray="2.08 6.25" stroke-dashoffset="0.00"/>
<g fill="none" stroke="#ff0000" stroke-opacity="0.65" stroke-width="2.08"><path d="M1350.75,786.20H1363.25M1357.00,779.95V792.45"/></g>
<path d="M1332,820.5H1382" fill="none" stroke="#000000" stroke-opacity="0.65" stroke-width="4.17"/>
<g fill="#000000" fill-opacity="0.65" stroke="#000" stroke-opacity="0.65" stroke-width="2.08" stroke-linejoin="miter"><path d="M1357.00,812.10 L1362.30,820.50 L1357.00,828.90 L1351.70,820.50Z"/></g>
<path d="M1332,854.8H1382" fill="none" stroke="#0000ff" stroke-opacity="0.65" stroke-width="4.17"/>
<g fill="#0000ff" fill-opacity="0.65" stroke="#0000ff" stroke-opacity="0.65" stroke-width="2.08"><circle cx="1357.00" cy="854.80" r="3.12"/></g>
<g>
<g><text transform="translate(103.70,114.73) scale(0.9696,1)" font-family="'Liberation Serif', serif"  font-size="27.11" fill="#000">10</text><text transform="translate(130.45,108.76) scale(1.1339,1)" font-family="'Liberation Serif', serif"  font-size="22.00" fill="#000">−</text><text transform="translate(144.29,105.79) scale(0.9954,1)" font-family="'Liberation Serif', serif"  font-size="20.74" fill="#000">4</text></g>
<g><text transform="translate(103.70,234.73) scale(0.9696,1)" font-family="'Liberation Serif', serif"  font-size="27.11" fill="#000">10</text><text transform="translate(130.45,228.76) scale(1.1339,1)" font-family="'Liberation Serif', serif"  font-size="22.00" fill="#000">−</text><text transform="translate(143.34,225.79) scale(1.1429,1)" font-family="'Liberation Serif', serif"  font-size="20.74" fill="#000">5</text></g>
<g><text transform="translate(103.70,354.73) scale(0.9696,1)" font-family="'Liberation Serif', serif"  font-size="27.11" fill="#000">10</text><text transform="translate(130.45,348.77) scale(1.1339,1)" font-family="'Liberation Serif', serif"  font-size="22.00" fill="#000">−</text><text transform="translate(143.75,345.79) scale(1.0827,1)" font-family="'Liberation Serif', serif"  font-size="20.74" fill="#000">6</text></g>
<g><text transform="translate(103.70,474.73) scale(0.9696,1)" font-family="'Liberation Serif', serif"  font-size="27.11" fill="#000">10</text><text transform="translate(130.45,468.77) scale(1.1339,1)" font-family="'Liberation Serif', serif"  font-size="22.00" fill="#000">−</text><text transform="translate(143.17,465.79) scale(1.1358,1)" font-family="'Liberation Serif', serif"  font-size="20.74" fill="#000">7</text></g>
<g><text transform="translate(103.70,594.73) scale(0.9696,1)" font-family="'Liberation Serif', serif"  font-size="27.11" fill="#000">10</text><text transform="translate(130.45,588.77) scale(1.1339,1)" font-family="'Liberation Serif', serif"  font-size="22.00" fill="#000">−</text><text transform="translate(143.85,585.79) scale(1.0891,1)" font-family="'Liberation Serif', serif"  font-size="20.74" fill="#000">8</text></g>
<g><text transform="translate(103.70,714.73) scale(0.9696,1)" font-family="'Liberation Serif', serif"  font-size="27.11" fill="#000">10</text><text transform="translate(130.45,708.77) scale(1.1339,1)" font-family="'Liberation Serif', serif"  font-size="22.00" fill="#000">−</text><text transform="translate(143.97,705.79) scale(1.0827,1)" font-family="'Liberation Serif', serif"  font-size="20.74" fill="#000">9</text></g>
<g><text transform="translate(94.70,834.73) scale(0.9696,1)" font-family="'Liberation Serif', serif"  font-size="27.11" fill="#000">10</text><text transform="translate(121.78,828.77) scale(1.1046,1)" font-family="'Liberation Serif', serif"  font-size="22.00" fill="#000">−</text><text transform="translate(135.30,825.80) scale(0.9572,1)" font-family="'Liberation Serif', serif"  font-size="20.30" fill="#000">10</text></g>
<g><text transform="translate(94.70,954.73) scale(0.9696,1)" font-family="'Liberation Serif', serif"  font-size="27.11" fill="#000">10</text><text transform="translate(121.78,948.77) scale(1.1046,1)" font-family="'Liberation Serif', serif"  font-size="22.00" fill="#000">−</text><text transform="translate(135.28,945.80) scale(0.9673,1)" font-family="'Liberation Serif', serif"  font-size="20.30" fill="#000">11</text></g>
<g><text transform="rotate(-90) translate(-640.38,85.30) scale(1.0434,1)" font-family="'Liberation Serif', serif"  font-size="34.05" fill="#0000ff">Number</text> <text transform="rotate(-90) translate(-516.13,85.30) scale(1.0081,1)" font-family="'Liberation Serif', serif"  font-size="34.05" fill="#0000ff">fraction</text></g>
<text transform="translate(303.50,986.19) scale(0.9461,1)" font-family="'Liberation Serif', serif"  font-size="33.82" fill="#000">0.5</text>
<text transform="translate(530.51,986.19) scale(0.9401,1)" font-family="'Liberation Serif', serif"  font-size="33.82" fill="#000">0.6</text>
<text transform="translate(758.51,986.19) scale(0.9381,1)" font-family="'Liberation Serif', serif"  font-size="33.82" fill="#000">0.7</text>
<text transform="translate(985.50,986.19) scale(0.9461,1)" font-family="'Liberation Serif', serif"  font-size="33.82" fill="#000">0.8</text>
<text transform="translate(1213.50,986.19) scale(0.9481,1)" font-family="'Liberation Serif', serif"  font-size="33.82" fill="#000">0.9</text>
<g><text transform="translate(653.95,1020.10) scale(1.0071,1)" font-family="'Liberation Serif', serif"  font-size="34.20" fill="#0000ff">Mr</text><text transform="translate(699.74,1023.50) skewX(-5.010)" font-family="'Liberation Serif', serif" font-size="40.45" fill="#0000ff">/</text><text transform="translate(715.04,1020.10) scale(1.0186,1)" font-family="'Liberation Serif', serif"  font-size="34.20" fill="#0000ff">M</text><text transform="translate(744.96,1026.20) scale(0.9966,1)" font-family="'DejaVu Sans', sans-serif"  font-size="23.56" fill="#0000ff">☉</text></g>
<text transform="translate(1264.50,952.74) scale(1.0083,1)" font-family="'Liberation Serif', serif"  font-size="26.37" fill="#000">0</text>
<text transform="translate(1263.09,802.74) scale(1.0435,1)" font-family="'Liberation Serif', serif"  font-size="26.37" fill="#000">1</text>
<text transform="translate(1264.31,653.74) scale(1.0646,1)" font-family="'Liberation Serif', serif"  font-size="26.37" fill="#000">2</text>
<text transform="translate(1264.21,503.74) scale(1.0326,1)" font-family="'Liberation Serif', serif"  font-size="26.37" fill="#000">3</text>
<text transform="translate(1265.01,353.74) scale(0.9215,1)" font-family="'Liberation Serif', serif"  font-size="26.37" fill="#000">4</text>
<text transform="translate(1263.90,203.74) scale(1.0581,1)" font-family="'Liberation Serif', serif"  font-size="26.37" fill="#000">5</text>
<g><text transform="rotate(-90) translate(-707.90,1309.00) scale(0.9759,1)" font-family="'Liberation Serif', serif"  font-size="33.59" fill="#0000ff">Log</text> <text transform="rotate(-90) translate(-647.68,1309.00) scale(1.0575,1)" font-family="'Liberation Serif', serif"  font-size="33.59" fill="#0000ff">Neutron</text> <text transform="rotate(-90) translate(-521.63,1309.00) scale(1.0111,1)" font-family="'Liberation Serif', serif"  font-size="33.59" fill="#0000ff">Density</text> <g><text transform="rotate(-90) translate(-407.31,1309.00) scale(0.9161,1)" font-family="'Liberation Serif', serif"  font-size="33.59" fill="#0000ff">(</text><text transform="rotate(-90) translate(-394.97,1312.30) skewX(-4.159)" font-family="'Liberation Serif', serif" font-size="39.85" fill="#0000ff">/</text><text transform="rotate(-90) translate(-379.52,1309.00) scale(0.9658,1)" font-family="'Liberation Serif', serif"  font-size="33.59" fill="#0000ff">cc</text><text transform="rotate(-90) translate(-350.81,1309.00) scale(0.9250,1)" font-family="'Liberation Serif', serif"  font-size="33.59" fill="#0000ff">)</text></g></g>
<text transform="translate(1397.11,657.00) scale(0.8847,1)" font-family="'Liberation Serif', serif" font-style="italic" font-size="23.97" fill="#000">Fe</text>
<text transform="translate(1397.21,691.17) scale(1.1442,1)" font-family="'Liberation Serif', serif" font-style="italic" font-size="23.97" fill="#000">Ni</text>
<text transform="translate(1396.65,725.34) scale(1.1528,1)" font-family="'Liberation Serif', serif" font-style="italic" font-size="23.97" fill="#000">Zn</text>
<text transform="translate(1395.50,759.51) scale(1.0865,1)" font-family="'Liberation Serif', serif" font-style="italic" font-size="23.97" fill="#000">Y</text>
<text transform="translate(1396.67,793.68) scale(1.0977,1)" font-family="'Liberation Serif', serif" font-style="italic" font-size="23.97" fill="#000">Zr</text>
<text transform="translate(1396.77,827.85) scale(0.9424,1)" font-family="'Liberation Serif', serif" font-style="italic" font-size="23.97" fill="#000">Ba</text>
<text transform="translate(1397.28,862.02) scale(0.9374,1)" font-family="'Liberation Serif', serif" font-style="italic" font-size="23.97" fill="#000">La</text>
</g>
</svg>
</body></html>
